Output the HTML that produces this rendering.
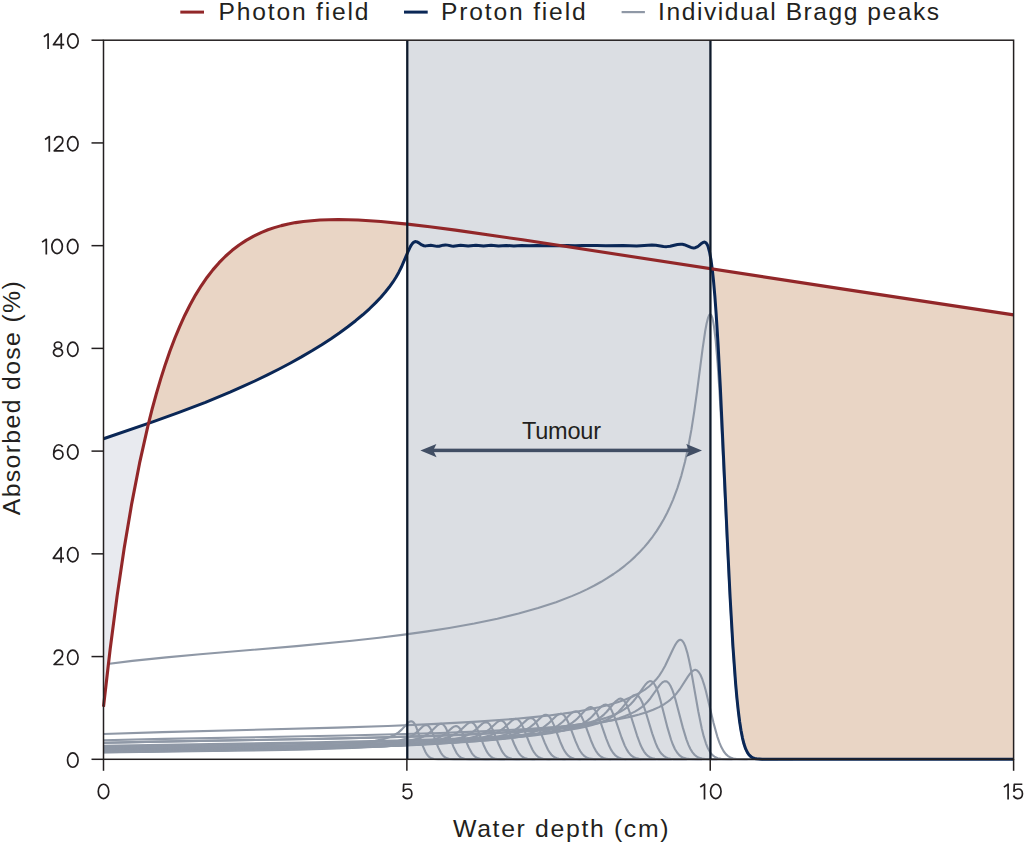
<!DOCTYPE html>
<html><head><meta charset="utf-8"><style>
html,body{margin:0;padding:0;background:#fff;}
body{width:1024px;height:843px;overflow:hidden;position:relative;}
svg{position:absolute;left:0;top:0;}
text{font-family:"Liberation Sans",sans-serif;fill:#231f20;}
</style></head><body>
<svg width="1024" height="843" viewBox="0 0 1024 843">
<rect width="1024" height="843" fill="#fff"/>
<!-- legend -->
<g stroke-width="3">
<line x1="180.3" y1="12.1" x2="204" y2="12.1" stroke="#922729"/>
<line x1="404" y1="12.1" x2="427.7" y2="12.1" stroke="#0a2756"/>
<line x1="621.6" y1="12.1" x2="644.9" y2="12.1" stroke="#8f98a6" stroke-width="2.2"/>
</g>
<g font-size="24.6">
<text x="218.5" y="19.9" textLength="150" lengthAdjust="spacing">Photon field</text>
<text x="441.1" y="19.9" textLength="144.5" lengthAdjust="spacing">Proton field</text>
<text x="658.1" y="19.9" textLength="281" lengthAdjust="spacing">Individual Bragg peaks</text>
</g>
<!-- fills -->
<path d="M148.55,423.35 148.84,422.17 149.13,421.01 149.42,419.85 149.70,418.69 149.99,417.54 150.28,416.40 150.57,415.26 150.86,414.13 151.15,413.00 151.43,411.88 151.72,410.77 152.01,409.66 152.30,408.56 152.59,407.46 152.88,406.37 153.17,405.29 153.45,404.21 153.74,403.14 154.03,402.07 154.32,401.00 154.61,399.95 154.90,398.90 155.18,397.85 155.47,396.81 155.76,395.78 156.05,394.75 156.34,393.72 156.63,392.70 156.91,391.69 157.20,390.68 157.49,389.68 157.78,388.68 158.07,387.69 158.36,386.71 158.65,385.72 158.93,384.75 159.22,383.78 159.51,382.81 159.80,381.85 160.09,380.89 160.38,379.94 160.66,379.00 160.95,378.05 161.24,377.12 161.53,376.19 161.82,375.26 162.11,374.34 162.40,373.42 162.68,372.51 162.97,371.61 163.26,370.70 163.55,369.81 163.84,368.91 164.13,368.03 164.41,367.14 164.70,366.26 164.99,365.39 165.28,364.52 165.57,363.66 165.86,362.80 166.15,361.94 166.43,361.09 166.72,360.25 167.01,359.40 167.30,358.57 167.59,357.73 167.88,356.90 168.16,356.08 168.45,355.26 168.74,354.45 169.03,353.63 169.32,352.83 169.61,352.03 169.89,351.23 170.18,350.43 170.47,349.64 170.76,348.86 171.05,348.08 171.34,347.30 171.63,346.53 171.91,345.76 172.20,344.99 172.49,344.23 172.78,343.48 173.07,342.72 173.36,341.97 173.64,341.23 173.93,340.49 174.22,339.75 174.51,339.02 174.80,338.29 175.09,337.56 175.38,336.84 175.66,336.13 175.95,335.41 176.24,334.70 176.53,334.00 176.82,333.30 177.11,332.60 177.39,331.90 177.68,331.21 177.97,330.53 178.26,329.84 178.55,329.16 178.84,328.49 179.13,327.81 179.41,327.14 179.70,326.48 179.99,325.82 180.28,325.16 180.57,324.50 180.86,323.85 181.14,323.21 181.43,322.56 181.72,321.92 182.01,321.28 182.30,320.65 182.59,320.02 182.88,319.39 183.16,318.77 183.45,318.15 183.74,317.53 184.03,316.92 184.32,316.31 184.61,315.70 184.89,315.10 185.18,314.50 185.47,313.90 185.76,313.31 186.05,312.72 186.34,312.13 186.62,311.54 186.91,310.96 187.20,310.39 187.49,309.81 187.78,309.24 188.07,308.67 188.36,308.11 188.64,307.54 188.93,306.98 189.22,306.43 189.51,305.87 189.80,305.32 190.09,304.78 190.37,304.23 190.66,303.69 190.95,303.15 191.24,302.62 191.53,302.08 191.82,301.55 192.11,301.03 192.39,300.50 192.68,299.98 192.97,299.46 193.26,298.95 193.55,298.44 193.84,297.93 194.12,297.42 194.41,296.92 194.70,296.41 194.99,295.92 195.28,295.42 195.57,294.93 195.86,294.44 196.14,293.95 196.43,293.46 196.72,292.98 197.01,292.50 197.30,292.02 197.59,291.55 197.87,291.08 198.16,290.61 198.45,290.14 198.74,289.68 199.03,289.22 199.32,288.76 199.60,288.30 199.89,287.85 200.18,287.40 200.47,286.95 200.76,286.50 201.05,286.06 201.34,285.61 201.62,285.18 201.91,284.74 202.20,284.30 202.49,283.87 202.78,283.44 203.07,283.02 203.35,282.59 203.64,282.17 203.93,281.75 204.22,281.33 204.51,280.92 204.80,280.50 205.09,280.09 205.37,279.68 205.66,279.28 205.95,278.88 206.24,278.47 206.53,278.07 206.82,277.68 207.10,277.28 207.39,276.89 207.68,276.50 207.97,276.11 208.26,275.73 208.55,275.34 208.84,274.96 209.12,274.58 209.41,274.20 209.70,273.83 209.99,273.45 210.28,273.08 210.57,272.71 210.85,272.35 211.14,271.98 211.43,271.62 211.72,271.26 212.01,270.90 212.30,270.54 212.58,270.19 212.87,269.84 213.16,269.49 213.45,269.14 213.74,268.79 214.03,268.45 214.32,268.10 214.60,267.76 214.89,267.42 215.18,267.09 215.47,266.75 215.76,266.42 216.05,266.09 216.33,265.76 216.62,265.43 216.91,265.10 217.20,264.78 217.49,264.46 217.78,264.14 218.07,263.82 218.35,263.50 218.64,263.19 218.93,262.88 219.22,262.57 219.51,262.26 219.80,261.95 220.08,261.65 220.37,261.34 220.66,261.04 220.95,260.74 221.24,260.44 221.53,260.14 221.82,259.85 222.10,259.56 222.39,259.26 222.68,258.97 222.97,258.69 223.26,258.40 223.55,258.11 223.83,257.83 224.12,257.55 224.41,257.27 224.70,256.99 224.99,256.71 225.28,256.44 225.57,256.17 225.85,255.89 226.14,255.62 226.43,255.35 226.72,255.09 227.01,254.82 227.30,254.56 227.58,254.30 227.87,254.03 228.16,253.77 228.45,253.52 228.74,253.26 229.03,253.01 229.31,252.75 229.60,252.50 229.89,252.25 230.18,252.00 230.47,251.75 230.76,251.51 231.05,251.26 231.33,251.02 231.62,250.78 231.91,250.54 232.20,250.30 232.49,250.06 232.78,249.83 233.06,249.59 233.35,249.36 233.64,249.13 233.93,248.90 234.22,248.67 234.51,248.44 234.80,248.22 235.08,247.99 235.37,247.77 235.66,247.55 235.95,247.33 236.24,247.11 236.53,246.89 236.81,246.67 237.10,246.46 237.39,246.24 237.68,246.03 237.97,245.82 238.26,245.61 238.55,245.40 238.83,245.19 239.12,244.99 239.41,244.78 239.70,244.58 239.99,244.37 240.28,244.17 240.56,243.97 240.85,243.77 241.14,243.58 241.43,243.38 241.72,243.19 242.01,242.99 242.29,242.80 242.58,242.61 242.87,242.42 243.16,242.23 243.45,242.04 243.74,241.85 244.03,241.67 244.31,241.48 244.60,241.30 244.89,241.12 245.18,240.94 245.47,240.76 245.76,240.58 246.04,240.40 246.33,240.22 246.62,240.05 246.91,239.87 247.20,239.70 247.49,239.53 247.78,239.36 248.06,239.19 248.35,239.02 248.64,238.85 248.93,238.68 249.22,238.52 249.51,238.35 249.79,238.19 250.08,238.03 250.37,237.87 250.66,237.71 250.95,237.55 251.24,237.39 251.53,237.23 251.81,237.07 252.10,236.92 252.39,236.77 252.68,236.61 252.97,236.46 253.26,236.31 253.54,236.16 253.83,236.01 254.12,235.86 254.41,235.71 254.70,235.57 254.99,235.42 255.28,235.28 255.56,235.13 255.85,234.99 256.14,234.85 256.43,234.71 256.72,234.57 257.01,234.43 257.29,234.29 257.58,234.15 257.87,234.02 258.16,233.88 258.45,233.75 258.74,233.62 259.02,233.48 259.31,233.35 259.60,233.22 259.89,233.09 260.18,232.96 260.47,232.83 260.76,232.71 261.04,232.58 261.33,232.46 261.62,232.33 261.91,232.21 262.20,232.08 262.49,231.96 262.77,231.84 263.06,231.72 263.35,231.60 263.64,231.48 263.93,231.36 264.22,231.25 264.51,231.13 264.79,231.02 265.08,230.90 265.37,230.79 265.66,230.67 265.95,230.56 266.24,230.45 266.52,230.34 266.81,230.23 267.10,230.12 267.39,230.01 267.68,229.90 267.97,229.80 268.26,229.69 268.54,229.59 268.83,229.48 269.12,229.38 269.41,229.28 269.70,229.17 269.99,229.07 270.27,228.97 270.56,228.87 270.85,228.77 271.14,228.67 271.43,228.57 271.72,228.48 272.00,228.38 272.29,228.29 272.58,228.19 272.87,228.10 273.16,228.00 273.45,227.91 273.74,227.82 274.02,227.73 274.31,227.63 274.60,227.54 274.89,227.46 275.18,227.37 275.47,227.28 275.75,227.19 276.04,227.10 276.33,227.02 276.62,226.93 276.91,226.85 277.20,226.76 277.49,226.68 277.77,226.60 278.06,226.51 278.35,226.43 278.64,226.35 278.93,226.27 279.22,226.19 279.50,226.11 279.79,226.03 280.08,225.96 280.37,225.88 280.66,225.80 280.95,225.73 281.24,225.65 281.52,225.58 281.81,225.50 282.10,225.43 282.39,225.36 282.68,225.28 282.97,225.21 283.25,225.14 283.54,225.07 283.83,225.00 284.12,224.93 284.41,224.86 284.70,224.79 284.98,224.73 285.27,224.66 285.56,224.59 285.85,224.53 286.14,224.46 286.43,224.40 286.72,224.33 287.00,224.27 287.29,224.20 287.58,224.14 287.87,224.08 288.16,224.02 288.45,223.96 288.73,223.90 289.02,223.84 289.31,223.78 289.60,223.72 289.89,223.66 290.18,223.60 290.47,223.54 290.75,223.49 291.04,223.43 291.33,223.37 291.62,223.32 291.91,223.26 292.20,223.21 292.48,223.15 292.77,223.10 293.06,223.05 293.35,223.00 293.64,222.94 293.93,222.89 294.22,222.84 294.50,222.79 294.79,222.74 295.08,222.69 295.37,222.64 295.66,222.59 295.95,222.55 296.23,222.50 296.52,222.45 296.81,222.40 297.10,222.36 297.39,222.31 297.68,222.27 297.97,222.22 298.25,222.18 298.54,222.13 298.83,222.09 299.12,222.05 299.41,222.00 299.70,221.96 299.98,221.92 300.27,221.88 300.56,221.84 300.85,221.80 301.14,221.76 301.43,221.72 301.71,221.68 302.00,221.64 302.29,221.60 302.58,221.56 302.87,221.53 303.16,221.49 303.45,221.45 303.73,221.42 304.02,221.38 304.31,221.34 304.60,221.31 304.89,221.28 305.18,221.24 305.46,221.21 305.75,221.17 306.04,221.14 306.33,221.11 306.62,221.08 306.91,221.04 307.20,221.01 307.48,220.98 307.77,220.95 308.06,220.92 308.35,220.89 308.64,220.86 308.93,220.83 309.21,220.80 309.50,220.77 309.79,220.75 310.08,220.72 310.37,220.69 310.66,220.66 310.95,220.64 311.23,220.61 311.52,220.58 311.81,220.56 312.10,220.53 312.39,220.51 312.68,220.48 312.96,220.46 313.25,220.44 313.54,220.41 313.83,220.39 314.12,220.37 314.41,220.34 314.69,220.32 314.98,220.30 315.27,220.28 315.56,220.26 315.85,220.24 316.14,220.22 316.43,220.20 316.71,220.18 317.00,220.16 317.29,220.14 317.58,220.12 317.87,220.10 318.16,220.08 318.44,220.07 318.73,220.05 319.02,220.03 319.31,220.01 319.60,220.00 319.89,219.98 320.18,219.96 320.46,219.95 320.75,219.93 321.04,219.92 321.33,219.90 321.62,219.89 321.91,219.88 322.19,219.86 322.48,219.85 322.77,219.83 323.06,219.82 323.35,219.81 323.64,219.80 323.93,219.78 324.21,219.77 324.50,219.76 324.79,219.75 325.08,219.74 325.37,219.73 325.66,219.72 325.94,219.71 326.23,219.70 326.52,219.69 326.81,219.68 327.10,219.67 327.39,219.66 327.68,219.65 327.96,219.64 328.25,219.64 328.54,219.63 328.83,219.62 329.12,219.61 329.41,219.61 329.69,219.60 329.98,219.59 330.27,219.59 330.56,219.58 330.85,219.58 331.14,219.57 331.42,219.57 331.71,219.56 332.00,219.56 332.29,219.55 332.58,219.55 332.87,219.54 333.16,219.54 333.44,219.54 333.73,219.53 334.02,219.53 334.31,219.53 334.60,219.53 334.89,219.52 335.17,219.52 335.46,219.52 335.75,219.52 336.04,219.52 336.33,219.52 336.62,219.52 336.91,219.52 337.19,219.51 337.48,219.51 337.77,219.51 338.06,219.52 338.35,219.52 338.64,219.52 338.92,219.52 339.21,219.52 339.50,219.52 339.79,219.52 340.08,219.52 340.37,219.53 340.66,219.53 340.94,219.53 341.23,219.53 341.52,219.54 341.81,219.54 342.10,219.54 342.39,219.55 342.67,219.55 342.96,219.55 343.25,219.56 343.54,219.56 343.83,219.57 344.12,219.57 344.40,219.58 344.69,219.58 344.98,219.59 345.27,219.59 345.56,219.60 345.85,219.61 346.14,219.61 346.42,219.62 346.71,219.63 347.00,219.63 347.29,219.64 347.58,219.65 347.87,219.65 348.15,219.66 348.44,219.67 348.73,219.68 349.02,219.69 349.31,219.69 349.60,219.70 349.89,219.71 350.17,219.72 350.46,219.73 350.75,219.74 351.04,219.75 351.33,219.76 351.62,219.77 351.90,219.78 352.19,219.79 352.48,219.80 352.77,219.81 353.06,219.82 353.35,219.83 353.64,219.84 353.92,219.85 354.21,219.86 354.50,219.87 354.79,219.89 355.08,219.90 355.37,219.91 355.65,219.92 355.94,219.93 356.23,219.95 356.52,219.96 356.81,219.97 357.10,219.99 357.38,220.00 357.67,220.01 357.96,220.03 358.25,220.04 358.54,220.05 358.83,220.07 359.12,220.08 359.40,220.09 359.69,220.11 359.98,220.12 360.27,220.14 360.56,220.15 360.85,220.17 361.13,220.18 361.42,220.20 361.71,220.21 362.00,220.23 362.29,220.25 362.58,220.26 362.87,220.28 363.15,220.29 363.44,220.31 363.73,220.33 364.02,220.34 364.31,220.36 364.60,220.38 364.88,220.39 365.17,220.41 365.46,220.43 365.75,220.45 366.04,220.46 366.33,220.48 366.62,220.50 366.90,220.52 367.19,220.54 367.48,220.55 367.77,220.57 368.06,220.59 368.35,220.61 368.63,220.63 368.92,220.65 369.21,220.67 369.50,220.69 369.79,220.70 370.08,220.72 370.37,220.74 370.65,220.76 370.94,220.78 371.23,220.80 371.52,220.82 371.81,220.84 372.10,220.86 372.38,220.88 372.67,220.91 372.96,220.93 373.25,220.95 373.54,220.97 373.83,220.99 374.11,221.01 374.40,221.03 374.69,221.05 374.98,221.07 375.27,221.10 375.56,221.12 375.85,221.14 376.13,221.16 376.42,221.18 376.71,221.21 377.00,221.23 377.29,221.25 377.58,221.27 377.86,221.30 378.15,221.32 378.44,221.34 378.73,221.37 379.02,221.39 379.31,221.41 379.60,221.44 379.88,221.46 380.17,221.48 380.46,221.51 380.75,221.53 381.04,221.55 381.33,221.58 381.61,221.60 381.90,221.63 382.19,221.65 382.48,221.67 382.77,221.70 383.06,221.72 383.35,221.75 383.63,221.77 383.92,221.80 384.21,221.82 384.50,221.85 384.79,221.87 385.08,221.90 385.36,221.92 385.65,221.95 385.94,221.98 386.23,222.00 386.52,222.03 386.81,222.05 387.09,222.08 387.38,222.11 387.67,222.13 387.96,222.16 388.25,222.18 388.54,222.21 388.83,222.24 389.11,222.26 389.40,222.29 389.69,222.32 389.98,222.34 390.27,222.37 390.56,222.40 390.84,222.43 391.13,222.45 391.42,222.48 391.71,222.51 392.00,222.54 392.29,222.56 392.58,222.59 392.86,222.62 393.15,222.65 393.44,222.68 393.73,222.70 394.02,222.73 394.31,222.76 394.59,222.79 394.88,222.82 395.17,222.85 395.46,222.87 395.75,222.90 396.04,222.93 396.33,222.96 396.61,222.99 396.90,223.02 397.19,223.05 397.48,223.08 397.77,223.11 398.06,223.13 398.34,223.16 398.63,223.19 398.92,223.22 399.21,223.25 399.50,223.28 399.79,223.31 400.08,223.34 400.36,223.37 400.65,223.40 400.94,223.43 401.23,223.46 401.52,223.49 401.81,223.52 402.09,223.55 402.38,223.58 402.67,223.61 402.96,223.65 403.25,223.68 403.54,223.71 403.82,223.74 404.11,223.77 404.40,223.80 404.69,223.83 404.98,223.86 405.27,223.89 405.56,223.92 405.84,223.96 406.13,223.99 406.42,224.02 406.71,224.05 407.00,224.08 407.29,224.11 407.57,224.14 407.86,224.18 408.15,224.21 408.44,224.24 408.73,224.27 409.02,224.30 409.31,224.34 409.59,224.37 409.88,224.40 410.17,224.43 410.46,224.47 410.75,224.50 411.04,224.53 411.32,224.56 411.61,224.60 411.90,224.63 412.19,224.66 412.48,224.69 412.77,224.73 413.06,224.76 413.34,224.79 413.63,224.83 413.92,224.86 414.21,224.89 414.50,224.93 414.79,224.96 415.07,224.99 415.36,225.03 415.65,225.06 415.94,225.09 416.23,225.13 416.52,225.16 416.80,225.19 417.09,225.23 417.38,225.26 417.67,225.29 417.96,225.33 418.25,225.36 418.54,225.40 418.82,225.43 419.11,225.47 419.40,225.50 419.69,225.53 419.98,225.57 420.27,225.60 420.55,225.64 420.84,225.67 421.13,225.71 421.42,225.74 421.71,225.77 422.00,225.81 422.29,225.84 422.57,225.88 422.86,225.91 423.15,225.95 423.44,225.98 423.73,226.02 424.02,226.05 424.30,226.09 424.59,226.12 424.88,226.16 425.17,226.19 425.46,226.23 425.75,226.27 426.04,226.30 426.32,226.34 426.61,226.37 426.90,226.41 427.19,226.44 427.48,226.48 427.77,226.51 428.05,226.55 428.34,226.59 428.63,226.62 428.92,226.66 429.21,226.69 429.50,226.73 429.78,226.76 430.07,226.80 430.36,226.84 430.65,226.87 430.94,226.91 431.23,226.95 431.52,226.98 431.80,227.02 432.09,227.05 432.38,227.09 432.67,227.13 432.96,227.16 433.25,227.20 433.53,227.24 433.82,227.27 434.11,227.31 434.40,227.35 434.69,227.38 434.98,227.42 435.27,227.46 435.55,227.49 435.84,227.53 436.13,227.57 436.42,227.60 436.71,227.64 437.00,227.68 437.28,227.72 437.57,227.75 437.86,227.79 438.15,227.83 438.44,227.86 438.73,227.90 439.02,227.94 439.30,227.98 439.59,228.01 439.88,228.05 440.17,228.09 440.46,228.13 440.75,228.16 441.03,228.20 441.32,228.24 441.61,228.28 441.90,228.31 442.19,228.35 442.48,228.39 442.77,228.43 443.05,228.47 443.34,228.50 443.63,228.54 443.92,228.58 444.21,228.62 444.50,228.66 444.78,228.69 445.07,228.73 445.36,228.77 445.65,228.81 445.94,228.85 446.23,228.88 446.51,228.92 446.80,228.96 447.09,229.00 447.38,229.04 447.67,229.08 447.96,229.11 448.25,229.15 448.53,229.19 448.82,229.23 449.11,229.27 449.40,229.31 449.69,229.35 449.98,229.38 450.26,229.42 450.55,229.46 450.84,229.50 451.13,229.54 451.42,229.58 451.71,229.62 452.00,229.66 452.28,229.69 452.57,229.73 452.86,229.77 453.15,229.81 453.44,229.85 453.73,229.89 454.01,229.93 454.30,229.97 454.59,230.01 454.88,230.05 455.17,230.09 455.46,230.12 455.75,230.16 456.03,230.20 456.32,230.24 456.61,230.28 456.90,230.32 457.19,230.36 457.48,230.40 457.76,230.44 458.05,230.48 458.34,230.52 458.63,230.56 458.92,230.60 459.21,230.64 459.49,230.68 459.78,230.72 460.07,230.76 460.36,230.80 460.65,230.84 460.94,230.88 461.23,230.92 461.51,230.95 461.80,230.99 462.09,231.03 462.38,231.07 462.67,231.11 462.96,231.15 463.24,231.19 463.53,231.23 463.82,231.27 464.11,231.31 464.40,231.35 464.69,231.39 464.98,231.43 465.26,231.47 465.55,231.51 465.84,231.56 466.13,231.60 466.42,231.64 466.71,231.68 466.99,231.72 467.28,231.76 467.57,231.80 467.86,231.84 468.15,231.88 468.44,231.92 468.73,231.96 469.01,232.00 469.30,232.04 469.59,232.08 469.88,232.12 470.17,232.16 470.46,232.20 470.74,232.24 471.03,232.28 471.32,232.32 471.61,232.36 471.90,232.40 472.19,232.45 472.47,232.49 472.76,232.53 473.05,232.57 473.34,232.61 473.63,232.65 473.92,232.69 474.21,232.73 474.49,232.77 474.78,232.81 475.07,232.85 475.36,232.89 475.65,232.94 475.94,232.98 476.22,233.02 476.51,233.06 476.80,233.10 477.09,233.14 477.38,233.18 477.67,233.22 477.96,233.26 478.24,233.30 478.53,233.35 478.82,233.39 479.11,233.43 479.40,233.47 479.69,233.51 479.97,233.55 480.26,233.59 480.55,233.63 480.84,233.68 481.13,233.72 481.42,233.76 481.71,233.80 481.99,233.84 482.28,233.88 482.57,233.92 482.86,233.96 483.15,234.01 483.44,234.05 483.72,234.09 484.01,234.13 484.30,234.17 484.59,234.21 484.88,234.26 485.17,234.30 485.46,234.34 485.74,234.38 486.03,234.42 486.32,234.46 486.61,234.50 486.90,234.55 487.19,234.59 487.47,234.63 487.76,234.67 488.05,234.71 488.34,234.75 488.63,234.80 488.92,234.84 489.20,234.88 489.49,234.92 489.78,234.96 490.07,235.01 490.36,235.05 490.65,235.09 490.94,235.13 491.22,235.17 491.51,235.22 491.80,235.26 492.09,235.30 492.38,235.34 492.67,235.38 492.95,235.42 493.24,235.47 493.53,235.51 493.82,235.55 494.11,235.59 494.40,235.63 494.69,235.68 494.97,235.72 495.26,235.76 495.55,235.80 495.84,235.85 496.13,235.89 496.42,235.93 496.70,235.97 496.99,236.01 497.28,236.06 497.57,236.10 497.86,236.14 498.15,236.18 498.44,236.23 498.72,236.27 499.01,236.31 499.30,236.35 499.59,236.39 499.88,236.44 500.17,236.48 500.45,236.52 500.74,236.56 501.03,236.61 501.32,236.65 501.61,236.69 501.90,236.73 502.18,236.78 502.47,236.82 502.76,236.86 503.05,236.90 503.34,236.95 503.63,236.99 503.92,237.03 504.20,237.07 504.49,237.12 504.78,237.16 505.07,237.20 505.36,237.24 505.65,237.29 505.93,237.33 506.22,237.37 506.51,237.41 506.80,237.46 507.09,237.50 507.38,237.54 507.67,237.58 507.95,237.63 508.24,237.67 508.53,237.71 508.82,237.75 509.11,237.80 509.40,237.84 509.68,237.88 509.97,237.93 510.26,237.97 510.55,238.01 510.84,238.05 511.13,238.10 511.42,238.14 511.70,238.18 511.99,238.23 512.28,238.27 512.57,238.31 512.86,238.35 513.15,238.40 513.43,238.44 513.72,238.48 514.01,238.53 514.30,238.57 514.59,238.61 514.88,238.65 515.17,238.70 515.45,238.74 515.74,238.78 516.03,238.83 516.32,238.87 516.61,238.91 516.90,238.95 517.18,239.00 517.47,239.04 517.76,239.08 518.05,239.13 518.34,239.17 518.63,239.21 518.91,239.26 519.20,239.30 519.49,239.34 519.78,239.39 520.07,239.43 520.36,239.47 520.65,239.51 520.93,239.56 521.22,239.60 521.51,239.64 521.80,239.69 522.09,239.73 522.38,239.77 522.66,239.82 522.95,239.86 523.24,239.90 523.53,239.95 523.82,239.99 524.11,240.03 524.40,240.08 524.68,240.12 524.97,240.16 525.26,240.21 525.55,240.25 525.84,240.29 526.13,240.34 526.41,240.38 526.70,240.42 526.99,240.47 527.28,240.51 527.57,240.55 527.86,240.60 528.15,240.64 528.43,240.68 528.72,240.73 529.01,240.77 529.30,240.81 529.59,240.86 529.88,240.90 530.16,240.94 530.45,240.99 530.74,241.03 531.03,241.07 531.32,241.12 531.61,241.16 531.89,241.20 532.18,241.25 532.47,241.29 532.76,241.33 533.05,241.38 533.34,241.42 533.63,241.46 533.91,241.51 534.20,241.55 534.49,241.59 534.78,241.64 535.07,241.68 535.36,241.72 535.64,241.77 535.93,241.81 536.22,241.86 536.51,241.90 536.80,241.94 537.09,241.99 537.38,242.03 537.66,242.07 537.95,242.12 538.24,242.16 538.53,242.20 538.82,242.25 539.11,242.29 539.39,242.33 539.68,242.38 539.97,242.42 540.26,242.47 540.55,242.51 540.84,242.55 541.13,242.60 541.41,242.64 541.70,242.68 541.99,242.73 542.28,242.77 542.57,242.81 542.86,242.86 543.14,242.90 543.43,242.95 543.72,242.99 544.01,243.03 544.30,243.08 544.59,243.12 544.87,243.16 545.16,243.21 545.45,243.25 545.74,243.30 546.03,243.34 546.32,243.38 546.61,243.43 546.89,243.47 547.18,243.51 547.47,243.56 547.76,243.60 548.05,243.65 548.34,243.69 548.62,243.73 548.91,243.78 549.20,243.82 549.49,243.86 549.78,243.91 550.07,243.95 550.36,244.00 550.64,244.04 550.93,244.08 551.22,244.13 551.51,244.17 551.80,244.22 552.09,244.26 552.37,244.30 552.66,244.35 552.95,244.39 553.24,244.43 553.53,244.48 553.82,244.52 554.11,244.57 554.39,244.61 554.68,244.65 554.97,244.70 555.26,244.74 555.55,244.79 555.84,244.83 556.12,244.87 556.41,244.92 556.70,244.96 556.99,245.01 557.28,245.05 557.57,245.09 557.86,245.14 558.14,245.18 558.43,245.23 558.72,245.27 559.01,245.31 559.30,245.36 559.59,245.40 559.87,245.45 560.16,245.49 560.45,245.53 560.74,245.58 561.03,245.62 561.32,245.67 561.60,245.71 561.89,245.75 562.18,245.80 562.47,245.84 562.76,245.89 563.05,245.93 563.34,245.97 563.62,246.02 563.91,246.06 564.20,246.11 564.49,246.15 564.78,246.19 565.07,246.24 565.35,246.28 565.64,246.33 565.93,246.37 566.22,246.41 566.51,246.46 566.80,246.50 567.09,246.55 567.37,246.59 567.66,246.63 567.95,246.68 568.24,246.72 568.53,246.77 568.82,246.81 569.10,246.86 569.39,246.90 569.68,246.94 569.97,246.99 570.26,247.03 570.55,247.08 570.84,247.12 571.12,247.16 571.41,247.21 571.70,247.25 571.99,247.30 572.28,247.34 572.57,247.39 572.85,247.43 573.14,247.47 573.43,247.52 573.72,247.56 574.01,247.61 574.30,247.65 574.58,247.69 574.87,247.74 575.16,247.78 575.45,247.83 575.74,247.87 576.03,247.92 576.32,247.96 576.60,248.00 576.89,248.05 577.18,248.09 577.47,248.14 577.76,248.18 578.05,248.22 578.33,248.27 578.62,248.31 578.91,248.36 579.20,248.40 579.49,248.45 579.78,248.49 580.07,248.53 580.35,248.58 580.64,248.62 580.93,248.67 581.22,248.71 581.51,248.76 581.80,248.80 582.08,248.84 582.37,248.89 582.66,248.93 582.95,248.98 583.24,249.02 583.53,249.07 583.82,249.11 584.10,249.15 584.39,249.20 584.68,249.24 584.97,249.29 585.26,249.33 585.55,249.38 585.83,249.42 586.12,249.46 586.41,249.51 586.70,249.55 586.99,249.60 587.28,249.64 587.57,249.69 587.85,249.73 588.14,249.77 588.43,249.82 588.72,249.86 589.01,249.91 589.30,249.95 589.58,250.00 589.87,250.04 590.16,250.08 590.45,250.13 590.74,250.17 591.03,250.22 591.31,250.26 591.60,250.31 591.89,250.35 592.18,250.40 592.47,250.44 592.76,250.48 593.05,250.53 593.33,250.57 593.62,250.62 593.91,250.66 594.20,250.71 594.49,250.75 594.78,250.79 595.06,250.84 595.35,250.88 595.64,250.93 595.93,250.97 596.22,251.02 596.51,251.06 596.80,251.10 597.08,251.15 597.37,251.19 597.66,251.24 597.95,251.28 598.24,251.33 598.53,251.37 598.81,251.42 599.10,251.46 599.39,251.50 599.68,251.55 599.97,251.59 600.26,251.64 600.55,251.68 600.83,251.73 601.12,251.77 601.41,251.82 601.70,251.86 601.99,251.90 602.28,251.95 602.56,251.99 602.85,252.04 603.14,252.08 603.43,252.13 603.72,252.17 604.01,252.22 604.29,252.26 604.58,252.30 604.87,252.35 605.16,252.39 605.45,252.44 605.74,252.48 606.03,252.53 606.31,252.57 606.60,252.62 606.89,252.66 607.18,252.70 607.47,252.75 607.76,252.79 608.04,252.84 608.33,252.88 608.62,252.93 608.91,252.97 609.20,253.02 609.49,253.06 609.78,253.10 610.06,253.15 610.35,253.19 610.64,253.24 610.93,253.28 611.22,253.33 611.51,253.37 611.79,253.42 612.08,253.46 612.37,253.50 612.66,253.55 612.95,253.59 613.24,253.64 613.53,253.68 613.81,253.73 614.10,253.77 614.39,253.82 614.68,253.86 614.97,253.90 615.26,253.95 615.54,253.99 615.83,254.04 616.12,254.08 616.41,254.13 616.70,254.17 616.99,254.22 617.27,254.26 617.56,254.31 617.85,254.35 618.14,254.39 618.43,254.44 618.72,254.48 619.01,254.53 619.29,254.57 619.58,254.62 619.87,254.66 620.16,254.71 620.45,254.75 620.74,254.79 621.02,254.84 621.31,254.88 621.60,254.93 621.89,254.97 622.18,255.02 622.47,255.06 622.76,255.11 623.04,255.15 623.33,255.20 623.62,255.24 623.91,255.28 624.20,255.33 624.49,255.37 624.77,255.42 625.06,255.46 625.35,255.51 625.64,255.55 625.93,255.60 626.22,255.64 626.51,255.69 626.79,255.73 627.08,255.77 627.37,255.82 627.66,255.86 627.95,255.91 628.24,255.95 628.52,256.00 628.81,256.04 629.10,256.09 629.39,256.13 629.68,256.17 629.97,256.22 630.26,256.26 630.54,256.31 630.83,256.35 631.12,256.40 631.41,256.44 631.70,256.49 631.99,256.53 632.27,256.58 632.56,256.62 632.85,256.66 633.14,256.71 633.43,256.75 633.72,256.80 634.00,256.84 634.29,256.89 634.58,256.93 634.87,256.98 635.16,257.02 635.45,257.07 635.74,257.11 636.02,257.15 636.31,257.20 636.60,257.24 636.89,257.29 637.18,257.33 637.47,257.38 637.75,257.42 638.04,257.47 638.33,257.51 638.62,257.56 638.91,257.60 639.20,257.65 639.49,257.69 639.77,257.73 640.06,257.78 640.35,257.82 640.64,257.87 640.93,257.91 641.22,257.96 641.50,258.00 641.79,258.05 642.08,258.09 642.37,258.14 642.66,258.18 642.95,258.22 643.24,258.27 643.52,258.31 643.81,258.36 644.10,258.40 644.39,258.45 644.68,258.49 644.97,258.54 645.25,258.58 645.54,258.63 645.83,258.67 646.12,258.71 646.41,258.76 646.70,258.80 646.98,258.85 647.27,258.89 647.56,258.94 647.85,258.98 648.14,259.03 648.43,259.07 648.72,259.12 649.00,259.16 649.29,259.21 649.58,259.25 649.87,259.29 650.16,259.34 650.45,259.38 650.73,259.43 651.02,259.47 651.31,259.52 651.60,259.56 651.89,259.61 652.18,259.65 652.47,259.70 652.75,259.74 653.04,259.78 653.33,259.83 653.62,259.87 653.91,259.92 654.20,259.96 654.48,260.01 654.77,260.05 655.06,260.10 655.35,260.14 655.64,260.19 655.93,260.23 656.22,260.27 656.50,260.32 656.79,260.36 657.08,260.41 657.37,260.45 657.66,260.50 657.95,260.54 658.23,260.59 658.52,260.63 658.81,260.68 659.10,260.72 659.39,260.77 659.68,260.81 659.97,260.85 660.25,260.90 660.54,260.94 660.83,260.99 661.12,261.03 661.41,261.08 661.70,261.12 661.98,261.17 662.27,261.21 662.56,261.26 662.85,261.30 663.14,261.35 663.43,261.39 663.71,261.43 664.00,261.48 664.29,261.52 664.58,261.57 664.87,261.61 665.16,261.66 665.45,261.70 665.73,261.75 666.02,261.79 666.31,261.84 666.60,261.88 666.89,261.92 667.18,261.97 667.46,262.01 667.75,262.06 668.04,262.10 668.33,262.15 668.62,262.19 668.91,262.24 669.20,262.28 669.48,262.33 669.77,262.37 670.06,262.42 670.35,262.46 670.64,262.50 670.93,262.55 671.21,262.59 671.50,262.64 671.79,262.68 672.08,262.73 672.37,262.77 672.66,262.82 672.95,262.86 673.23,262.91 673.52,262.95 673.81,262.99 674.10,263.04 674.39,263.08 674.68,263.13 674.96,263.17 675.25,263.22 675.54,263.26 675.83,263.31 676.12,263.35 676.41,263.40 676.69,263.44 676.98,263.49 677.27,263.53 677.56,263.57 677.85,263.62 678.14,263.66 678.43,263.71 678.71,263.75 679.00,263.80 679.29,263.84 679.58,263.89 679.87,263.93 680.16,263.98 680.44,264.02 680.73,264.06 681.02,264.11 681.31,264.15 681.60,264.20 681.89,264.24 682.18,264.29 682.46,264.33 682.75,264.38 683.04,264.42 683.33,264.47 683.62,264.51 683.91,264.56 684.19,264.60 684.48,264.64 684.77,264.69 685.06,264.73 685.35,264.78 685.64,264.82 685.93,264.87 686.21,264.91 686.50,264.96 686.79,265.00 687.08,265.05 687.37,265.09 687.66,265.13 687.94,265.18 688.23,265.22 688.52,265.27 688.81,265.31 689.10,265.36 689.39,265.40 689.67,265.45 689.96,265.49 690.25,265.54 690.54,265.58 690.83,265.63 691.12,265.67 691.41,265.71 691.69,265.76 691.98,265.80 692.27,265.85 692.56,265.89 692.85,265.94 693.14,265.98 693.42,266.03 693.71,266.07 694.00,266.12 694.29,266.16 694.58,266.20 694.87,266.25 695.16,266.29 695.44,266.34 695.73,266.38 696.02,266.43 696.31,266.47 696.60,266.52 696.89,266.56 697.17,266.61 697.46,266.65 697.75,266.69 698.04,266.74 698.33,266.78 698.62,266.83 698.91,266.87 699.19,266.92 699.48,266.96 699.77,267.01 700.06,267.05 700.35,267.10 700.64,267.14 700.92,267.19 701.21,267.23 701.50,267.27 701.79,267.32 702.08,267.36 702.37,267.41 702.66,267.45 702.94,267.50 703.23,267.54 703.52,267.59 703.81,267.63 704.10,267.68 704.39,267.72 704.67,267.76 704.96,267.81 705.25,267.85 705.54,267.90 705.83,267.94 706.12,267.99 706.40,268.03 706.69,268.08 706.98,268.12 707.27,268.17 707.56,268.21 707.85,268.25 708.14,268.30 708.42,268.34 708.71,268.39 709.00,268.43 709.29,268.48 709.58,268.52 709.87,268.57 710.15,268.61 710.44,268.66 710.73,268.70 711.02,268.74 711.31,268.79 711.60,268.83 711.89,268.88 712.17,268.92 712.46,268.97 712.75,269.01 713.04,269.06 713.33,269.10 713.62,269.15 713.90,269.19 714.19,269.23 714.48,269.28 714.77,269.32 715.06,269.37 715.35,269.41 715.64,269.46 715.92,269.50 716.21,269.55 716.50,269.59 716.79,269.64 717.08,269.68 717.37,269.72 717.65,269.77 717.94,269.81 718.23,269.86 718.52,269.90 718.81,269.95 719.10,269.99 719.38,270.04 719.67,270.08 719.96,270.13 720.25,270.17 720.54,270.21 720.83,270.26 721.12,270.30 721.40,270.35 721.69,270.39 721.98,270.44 722.27,270.48 722.56,270.53 722.85,270.57 723.13,270.61 723.42,270.66 723.71,270.70 724.00,270.75 724.29,270.79 724.58,270.84 724.87,270.88 725.15,270.93 725.44,270.97 725.73,271.02 726.02,271.06 726.31,271.10 726.60,271.15 726.88,271.19 727.17,271.24 727.46,271.28 727.75,271.33 728.04,271.37 728.33,271.42 728.62,271.46 728.90,271.51 729.19,271.55 729.48,271.59 729.77,271.64 730.06,271.68 730.35,271.73 730.63,271.77 730.92,271.82 731.21,271.86 731.50,271.91 731.79,271.95 732.08,271.99 732.36,272.04 732.65,272.08 732.94,272.13 733.23,272.17 733.52,272.22 733.81,272.26 734.10,272.31 734.38,272.35 734.67,272.40 734.96,272.44 735.25,272.48 735.54,272.53 735.83,272.57 736.11,272.62 736.40,272.66 736.69,272.71 736.98,272.75 737.27,272.80 737.56,272.84 737.85,272.88 738.13,272.93 738.42,272.97 738.71,273.02 739.00,273.06 739.29,273.11 739.58,273.15 739.86,273.20 740.15,273.24 740.44,273.28 740.73,273.33 741.02,273.37 741.31,273.42 741.60,273.46 741.88,273.51 742.17,273.55 742.46,273.60 742.75,273.64 743.04,273.69 743.33,273.73 743.61,273.77 743.90,273.82 744.19,273.86 744.48,273.91 744.77,273.95 745.06,274.00 745.35,274.04 745.63,274.09 745.92,274.13 746.21,274.17 746.50,274.22 746.79,274.26 747.08,274.31 747.36,274.35 747.65,274.40 747.94,274.44 748.23,274.49 748.52,274.53 748.81,274.57 749.09,274.62 749.38,274.66 749.67,274.71 749.96,274.75 750.25,274.80 750.54,274.84 750.83,274.89 751.11,274.93 751.40,274.97 751.69,275.02 751.98,275.06 752.27,275.11 752.56,275.15 752.84,275.20 753.13,275.24 753.42,275.29 753.71,275.33 754.00,275.37 754.29,275.42 754.58,275.46 754.86,275.51 755.15,275.55 755.44,275.60 755.73,275.64 756.02,275.69 756.31,275.73 756.59,275.77 756.88,275.82 757.17,275.86 757.46,275.91 757.75,275.95 758.04,276.00 758.33,276.04 758.61,276.09 758.90,276.13 759.19,276.17 759.48,276.22 759.77,276.26 760.06,276.31 760.34,276.35 760.63,276.40 760.92,276.44 761.21,276.49 761.50,276.53 761.79,276.57 762.07,276.62 762.36,276.66 762.65,276.71 762.94,276.75 763.23,276.80 763.52,276.84 763.81,276.89 764.09,276.93 764.38,276.97 764.67,277.02 764.96,277.06 765.25,277.11 765.54,277.15 765.82,277.20 766.11,277.24 766.40,277.28 766.69,277.33 766.98,277.37 767.27,277.42 767.56,277.46 767.84,277.51 768.13,277.55 768.42,277.60 768.71,277.64 769.00,277.68 769.29,277.73 769.57,277.77 769.86,277.82 770.15,277.86 770.44,277.91 770.73,277.95 771.02,278.00 771.31,278.04 771.59,278.08 771.88,278.13 772.17,278.17 772.46,278.22 772.75,278.26 773.04,278.31 773.32,278.35 773.61,278.39 773.90,278.44 774.19,278.48 774.48,278.53 774.77,278.57 775.06,278.62 775.34,278.66 775.63,278.71 775.92,278.75 776.21,278.79 776.50,278.84 776.79,278.88 777.07,278.93 777.36,278.97 777.65,279.02 777.94,279.06 778.23,279.10 778.52,279.15 778.80,279.19 779.09,279.24 779.38,279.28 779.67,279.33 779.96,279.37 780.25,279.42 780.54,279.46 780.82,279.50 781.11,279.55 781.40,279.59 781.69,279.64 781.98,279.68 782.27,279.73 782.55,279.77 782.84,279.81 783.13,279.86 783.42,279.90 783.71,279.95 784.00,279.99 784.29,280.04 784.57,280.08 784.86,280.12 785.15,280.17 785.44,280.21 785.73,280.26 786.02,280.30 786.30,280.35 786.59,280.39 786.88,280.43 787.17,280.48 787.46,280.52 787.75,280.57 788.04,280.61 788.32,280.66 788.61,280.70 788.90,280.75 789.19,280.79 789.48,280.83 789.77,280.88 790.05,280.92 790.34,280.97 790.63,281.01 790.92,281.06 791.21,281.10 791.50,281.14 791.78,281.19 792.07,281.23 792.36,281.28 792.65,281.32 792.94,281.37 793.23,281.41 793.52,281.45 793.80,281.50 794.09,281.54 794.38,281.59 794.67,281.63 794.96,281.68 795.25,281.72 795.53,281.76 795.82,281.81 796.11,281.85 796.40,281.90 796.69,281.94 796.98,281.99 797.27,282.03 797.55,282.07 797.84,282.12 798.13,282.16 798.42,282.21 798.71,282.25 799.00,282.30 799.28,282.34 799.57,282.38 799.86,282.43 800.15,282.47 800.44,282.52 800.73,282.56 801.02,282.61 801.30,282.65 801.59,282.69 801.88,282.74 802.17,282.78 802.46,282.83 802.75,282.87 803.03,282.92 803.32,282.96 803.61,283.00 803.90,283.05 804.19,283.09 804.48,283.14 804.76,283.18 805.05,283.23 805.34,283.27 805.63,283.31 805.92,283.36 806.21,283.40 806.50,283.45 806.78,283.49 807.07,283.54 807.36,283.58 807.65,283.62 807.94,283.67 808.23,283.71 808.51,283.76 808.80,283.80 809.09,283.85 809.38,283.89 809.67,283.93 809.96,283.98 810.25,284.02 810.53,284.07 810.82,284.11 811.11,284.16 811.40,284.20 811.69,284.24 811.98,284.29 812.26,284.33 812.55,284.38 812.84,284.42 813.13,284.47 813.42,284.51 813.71,284.55 814.00,284.60 814.28,284.64 814.57,284.69 814.86,284.73 815.15,284.77 815.44,284.82 815.73,284.86 816.01,284.91 816.30,284.95 816.59,285.00 816.88,285.04 817.17,285.08 817.46,285.13 817.75,285.17 818.03,285.22 818.32,285.26 818.61,285.31 818.90,285.35 819.19,285.39 819.48,285.44 819.76,285.48 820.05,285.53 820.34,285.57 820.63,285.61 820.92,285.66 821.21,285.70 821.49,285.75 821.78,285.79 822.07,285.84 822.36,285.88 822.65,285.92 822.94,285.97 823.23,286.01 823.51,286.06 823.80,286.10 824.09,286.15 824.38,286.19 824.67,286.23 824.96,286.28 825.24,286.32 825.53,286.37 825.82,286.41 826.11,286.45 826.40,286.50 826.69,286.54 826.98,286.59 827.26,286.63 827.55,286.68 827.84,286.72 828.13,286.76 828.42,286.81 828.71,286.85 828.99,286.90 829.28,286.94 829.57,286.98 829.86,287.03 830.15,287.07 830.44,287.12 830.73,287.16 831.01,287.21 831.30,287.25 831.59,287.29 831.88,287.34 832.17,287.38 832.46,287.43 832.74,287.47 833.03,287.51 833.32,287.56 833.61,287.60 833.90,287.65 834.19,287.69 834.47,287.74 834.76,287.78 835.05,287.82 835.34,287.87 835.63,287.91 835.92,287.96 836.21,288.00 836.49,288.04 836.78,288.09 837.07,288.13 837.36,288.18 837.65,288.22 837.94,288.27 838.22,288.31 838.51,288.35 838.80,288.40 839.09,288.44 839.38,288.49 839.67,288.53 839.96,288.57 840.24,288.62 840.53,288.66 840.82,288.71 841.11,288.75 841.40,288.79 841.69,288.84 841.97,288.88 842.26,288.93 842.55,288.97 842.84,289.02 843.13,289.06 843.42,289.10 843.71,289.15 843.99,289.19 844.28,289.24 844.57,289.28 844.86,289.32 845.15,289.37 845.44,289.41 845.72,289.46 846.01,289.50 846.30,289.54 846.59,289.59 846.88,289.63 847.17,289.68 847.46,289.72 847.74,289.76 848.03,289.81 848.32,289.85 848.61,289.90 848.90,289.94 849.19,289.99 849.47,290.03 849.76,290.07 850.05,290.12 850.34,290.16 850.63,290.21 850.92,290.25 851.20,290.29 851.49,290.34 851.78,290.38 852.07,290.43 852.36,290.47 852.65,290.51 852.94,290.56 853.22,290.60 853.51,290.65 853.80,290.69 854.09,290.73 854.38,290.78 854.67,290.82 854.95,290.87 855.24,290.91 855.53,290.96 855.82,291.00 856.11,291.04 856.40,291.09 856.69,291.13 856.97,291.18 857.26,291.22 857.55,291.26 857.84,291.31 858.13,291.35 858.42,291.40 858.70,291.44 858.99,291.48 859.28,291.53 859.57,291.57 859.86,291.62 860.15,291.66 860.44,291.70 860.72,291.75 861.01,291.79 861.30,291.84 861.59,291.88 861.88,291.92 862.17,291.97 862.45,292.01 862.74,292.06 863.03,292.10 863.32,292.14 863.61,292.19 863.90,292.23 864.18,292.28 864.47,292.32 864.76,292.36 865.05,292.41 865.34,292.45 865.63,292.50 865.92,292.54 866.20,292.58 866.49,292.63 866.78,292.67 867.07,292.72 867.36,292.76 867.65,292.80 867.93,292.85 868.22,292.89 868.51,292.94 868.80,292.98 869.09,293.02 869.38,293.07 869.67,293.11 869.95,293.16 870.24,293.20 870.53,293.24 870.82,293.29 871.11,293.33 871.40,293.38 871.68,293.42 871.97,293.46 872.26,293.51 872.55,293.55 872.84,293.60 873.13,293.64 873.42,293.68 873.70,293.73 873.99,293.77 874.28,293.82 874.57,293.86 874.86,293.90 875.15,293.95 875.43,293.99 875.72,294.04 876.01,294.08 876.30,294.12 876.59,294.17 876.88,294.21 877.16,294.26 877.45,294.30 877.74,294.34 878.03,294.39 878.32,294.43 878.61,294.48 878.90,294.52 879.18,294.56 879.47,294.61 879.76,294.65 880.05,294.70 880.34,294.74 880.63,294.78 880.91,294.83 881.20,294.87 881.49,294.91 881.78,294.96 882.07,295.00 882.36,295.05 882.65,295.09 882.93,295.13 883.22,295.18 883.51,295.22 883.80,295.27 884.09,295.31 884.38,295.35 884.66,295.40 884.95,295.44 885.24,295.49 885.53,295.53 885.82,295.57 886.11,295.62 886.40,295.66 886.68,295.71 886.97,295.75 887.26,295.79 887.55,295.84 887.84,295.88 888.13,295.93 888.41,295.97 888.70,296.01 888.99,296.06 889.28,296.10 889.57,296.14 889.86,296.19 890.15,296.23 890.43,296.28 890.72,296.32 891.01,296.36 891.30,296.41 891.59,296.45 891.88,296.50 892.16,296.54 892.45,296.58 892.74,296.63 893.03,296.67 893.32,296.72 893.61,296.76 893.89,296.80 894.18,296.85 894.47,296.89 894.76,296.93 895.05,296.98 895.34,297.02 895.63,297.07 895.91,297.11 896.20,297.15 896.49,297.20 896.78,297.24 897.07,297.29 897.36,297.33 897.64,297.37 897.93,297.42 898.22,297.46 898.51,297.50 898.80,297.55 899.09,297.59 899.38,297.64 899.66,297.68 899.95,297.72 900.24,297.77 900.53,297.81 900.82,297.86 901.11,297.90 901.39,297.94 901.68,297.99 901.97,298.03 902.26,298.07 902.55,298.12 902.84,298.16 903.13,298.21 903.41,298.25 903.70,298.29 903.99,298.34 904.28,298.38 904.57,298.43 904.86,298.47 905.14,298.51 905.43,298.56 905.72,298.60 906.01,298.64 906.30,298.69 906.59,298.73 906.87,298.78 907.16,298.82 907.45,298.86 907.74,298.91 908.03,298.95 908.32,299.00 908.61,299.04 908.89,299.08 909.18,299.13 909.47,299.17 909.76,299.21 910.05,299.26 910.34,299.30 910.62,299.35 910.91,299.39 911.20,299.43 911.49,299.48 911.78,299.52 912.07,299.56 912.36,299.61 912.64,299.65 912.93,299.70 913.22,299.74 913.51,299.78 913.80,299.83 914.09,299.87 914.37,299.91 914.66,299.96 914.95,300.00 915.24,300.05 915.53,300.09 915.82,300.13 916.11,300.18 916.39,300.22 916.68,300.26 916.97,300.31 917.26,300.35 917.55,300.40 917.84,300.44 918.12,300.48 918.41,300.53 918.70,300.57 918.99,300.61 919.28,300.66 919.57,300.70 919.85,300.75 920.14,300.79 920.43,300.83 920.72,300.88 921.01,300.92 921.30,300.96 921.59,301.01 921.87,301.05 922.16,301.10 922.45,301.14 922.74,301.18 923.03,301.23 923.32,301.27 923.60,301.31 923.89,301.36 924.18,301.40 924.47,301.45 924.76,301.49 925.05,301.53 925.34,301.58 925.62,301.62 925.91,301.66 926.20,301.71 926.49,301.75 926.78,301.80 927.07,301.84 927.35,301.88 927.64,301.93 927.93,301.97 928.22,302.01 928.51,302.06 928.80,302.10 929.09,302.15 929.37,302.19 929.66,302.23 929.95,302.28 930.24,302.32 930.53,302.36 930.82,302.41 931.10,302.45 931.39,302.49 931.68,302.54 931.97,302.58 932.26,302.63 932.55,302.67 932.84,302.71 933.12,302.76 933.41,302.80 933.70,302.84 933.99,302.89 934.28,302.93 934.57,302.98 934.85,303.02 935.14,303.06 935.43,303.11 935.72,303.15 936.01,303.19 936.30,303.24 936.58,303.28 936.87,303.32 937.16,303.37 937.45,303.41 937.74,303.46 938.03,303.50 938.32,303.54 938.60,303.59 938.89,303.63 939.18,303.67 939.47,303.72 939.76,303.76 940.05,303.80 940.33,303.85 940.62,303.89 940.91,303.94 941.20,303.98 941.49,304.02 941.78,304.07 942.07,304.11 942.35,304.15 942.64,304.20 942.93,304.24 943.22,304.28 943.51,304.33 943.80,304.37 944.08,304.42 944.37,304.46 944.66,304.50 944.95,304.55 945.24,304.59 945.53,304.63 945.82,304.68 946.10,304.72 946.39,304.76 946.68,304.81 946.97,304.85 947.26,304.90 947.55,304.94 947.83,304.98 948.12,305.03 948.41,305.07 948.70,305.11 948.99,305.16 949.28,305.20 949.56,305.24 949.85,305.29 950.14,305.33 950.43,305.37 950.72,305.42 951.01,305.46 951.30,305.51 951.58,305.55 951.87,305.59 952.16,305.64 952.45,305.68 952.74,305.72 953.03,305.77 953.31,305.81 953.60,305.85 953.89,305.90 954.18,305.94 954.47,305.98 954.76,306.03 955.05,306.07 955.33,306.12 955.62,306.16 955.91,306.20 956.20,306.25 956.49,306.29 956.78,306.33 957.06,306.38 957.35,306.42 957.64,306.46 957.93,306.51 958.22,306.55 958.51,306.59 958.80,306.64 959.08,306.68 959.37,306.73 959.66,306.77 959.95,306.81 960.24,306.86 960.53,306.90 960.81,306.94 961.10,306.99 961.39,307.03 961.68,307.07 961.97,307.12 962.26,307.16 962.55,307.20 962.83,307.25 963.12,307.29 963.41,307.33 963.70,307.38 963.99,307.42 964.28,307.46 964.56,307.51 964.85,307.55 965.14,307.60 965.43,307.64 965.72,307.68 966.01,307.73 966.29,307.77 966.58,307.81 966.87,307.86 967.16,307.90 967.45,307.94 967.74,307.99 968.03,308.03 968.31,308.07 968.60,308.12 968.89,308.16 969.18,308.20 969.47,308.25 969.76,308.29 970.04,308.33 970.33,308.38 970.62,308.42 970.91,308.47 971.20,308.51 971.49,308.55 971.78,308.60 972.06,308.64 972.35,308.68 972.64,308.73 972.93,308.77 973.22,308.81 973.51,308.86 973.79,308.90 974.08,308.94 974.37,308.99 974.66,309.03 974.95,309.07 975.24,309.12 975.53,309.16 975.81,309.20 976.10,309.25 976.39,309.29 976.68,309.33 976.97,309.38 977.26,309.42 977.54,309.46 977.83,309.51 978.12,309.55 978.41,309.59 978.70,309.64 978.99,309.68 979.27,309.73 979.56,309.77 979.85,309.81 980.14,309.86 980.43,309.90 980.72,309.94 981.01,309.99 981.29,310.03 981.58,310.07 981.87,310.12 982.16,310.16 982.45,310.20 982.74,310.25 983.02,310.29 983.31,310.33 983.60,310.38 983.89,310.42 984.18,310.46 984.47,310.51 984.76,310.55 985.04,310.59 985.33,310.64 985.62,310.68 985.91,310.72 986.20,310.77 986.49,310.81 986.77,310.85 987.06,310.90 987.35,310.94 987.64,310.98 987.93,311.03 988.22,311.07 988.51,311.11 988.79,311.16 989.08,311.20 989.37,311.24 989.66,311.29 989.95,311.33 990.24,311.37 990.52,311.42 990.81,311.46 991.10,311.50 991.39,311.55 991.68,311.59 991.97,311.63 992.25,311.68 992.54,311.72 992.83,311.76 993.12,311.81 993.41,311.85 993.70,311.89 993.99,311.94 994.27,311.98 994.56,312.02 994.85,312.07 995.14,312.11 995.43,312.15 995.72,312.20 996.00,312.24 996.29,312.28 996.58,312.33 996.87,312.37 997.16,312.41 997.45,312.46 997.74,312.50 998.02,312.54 998.31,312.59 998.60,312.63 998.89,312.67 999.18,312.72 999.47,312.76 999.75,312.80 1000.04,312.85 1000.33,312.89 1000.62,312.93 1000.91,312.98 1001.20,313.02 1001.49,313.06 1001.77,313.11 1002.06,313.15 1002.35,313.19 1002.64,313.24 1002.93,313.28 1003.22,313.32 1003.50,313.37 1003.79,313.41 1004.08,313.45 1004.37,313.50 1004.66,313.54 1004.95,313.58 1005.24,313.63 1005.52,313.67 1005.81,313.71 1006.10,313.76 1006.39,313.80 1006.68,313.84 1006.97,313.89 1007.25,313.93 1007.54,313.97 1007.83,314.02 1008.12,314.06 1008.41,314.10 1008.70,314.15 1008.98,314.19 1009.27,314.23 1009.56,314.28 1009.85,314.32 1010.14,314.36 1010.43,314.41 1010.72,314.45 1011.00,314.49 1011.29,314.53 1011.58,314.58 1011.87,314.62 1012.16,314.66 1012.45,314.71 1012.73,314.75 1013.02,314.79 1013.31,314.84 1013.60,314.88 L1013.60,759.30 1013.31,759.30 1013.02,759.30 1012.73,759.30 1012.45,759.30 1012.16,759.30 1011.87,759.30 1011.58,759.30 1011.29,759.30 1011.00,759.30 1010.72,759.30 1010.43,759.30 1010.14,759.30 1009.85,759.30 1009.56,759.30 1009.27,759.30 1008.98,759.30 1008.70,759.30 1008.41,759.30 1008.12,759.30 1007.83,759.30 1007.54,759.30 1007.25,759.30 1006.97,759.30 1006.68,759.30 1006.39,759.30 1006.10,759.30 1005.81,759.30 1005.52,759.30 1005.24,759.30 1004.95,759.30 1004.66,759.30 1004.37,759.30 1004.08,759.30 1003.79,759.30 1003.50,759.30 1003.22,759.30 1002.93,759.30 1002.64,759.30 1002.35,759.30 1002.06,759.30 1001.77,759.30 1001.49,759.30 1001.20,759.30 1000.91,759.30 1000.62,759.30 1000.33,759.30 1000.04,759.30 999.75,759.30 999.47,759.30 999.18,759.30 998.89,759.30 998.60,759.30 998.31,759.30 998.02,759.30 997.74,759.30 997.45,759.30 997.16,759.30 996.87,759.30 996.58,759.30 996.29,759.30 996.00,759.30 995.72,759.30 995.43,759.30 995.14,759.30 994.85,759.30 994.56,759.30 994.27,759.30 993.99,759.30 993.70,759.30 993.41,759.30 993.12,759.30 992.83,759.30 992.54,759.30 992.25,759.30 991.97,759.30 991.68,759.30 991.39,759.30 991.10,759.30 990.81,759.30 990.52,759.30 990.24,759.30 989.95,759.30 989.66,759.30 989.37,759.30 989.08,759.30 988.79,759.30 988.51,759.30 988.22,759.30 987.93,759.30 987.64,759.30 987.35,759.30 987.06,759.30 986.77,759.30 986.49,759.30 986.20,759.30 985.91,759.30 985.62,759.30 985.33,759.30 985.04,759.30 984.76,759.30 984.47,759.30 984.18,759.30 983.89,759.30 983.60,759.30 983.31,759.30 983.02,759.30 982.74,759.30 982.45,759.30 982.16,759.30 981.87,759.30 981.58,759.30 981.29,759.30 981.01,759.30 980.72,759.30 980.43,759.30 980.14,759.30 979.85,759.30 979.56,759.30 979.27,759.30 978.99,759.30 978.70,759.30 978.41,759.30 978.12,759.30 977.83,759.30 977.54,759.30 977.26,759.30 976.97,759.30 976.68,759.30 976.39,759.30 976.10,759.30 975.81,759.30 975.53,759.30 975.24,759.30 974.95,759.30 974.66,759.30 974.37,759.30 974.08,759.30 973.79,759.30 973.51,759.30 973.22,759.30 972.93,759.30 972.64,759.30 972.35,759.30 972.06,759.30 971.78,759.30 971.49,759.30 971.20,759.30 970.91,759.30 970.62,759.30 970.33,759.30 970.04,759.30 969.76,759.30 969.47,759.30 969.18,759.30 968.89,759.30 968.60,759.30 968.31,759.30 968.03,759.30 967.74,759.30 967.45,759.30 967.16,759.30 966.87,759.30 966.58,759.30 966.29,759.30 966.01,759.30 965.72,759.30 965.43,759.30 965.14,759.30 964.85,759.30 964.56,759.30 964.28,759.30 963.99,759.30 963.70,759.30 963.41,759.30 963.12,759.30 962.83,759.30 962.55,759.30 962.26,759.30 961.97,759.30 961.68,759.30 961.39,759.30 961.10,759.30 960.81,759.30 960.53,759.30 960.24,759.30 959.95,759.30 959.66,759.30 959.37,759.30 959.08,759.30 958.80,759.30 958.51,759.30 958.22,759.30 957.93,759.30 957.64,759.30 957.35,759.30 957.06,759.30 956.78,759.30 956.49,759.30 956.20,759.30 955.91,759.30 955.62,759.30 955.33,759.30 955.05,759.30 954.76,759.30 954.47,759.30 954.18,759.30 953.89,759.30 953.60,759.30 953.31,759.30 953.03,759.30 952.74,759.30 952.45,759.30 952.16,759.30 951.87,759.30 951.58,759.30 951.30,759.30 951.01,759.30 950.72,759.30 950.43,759.30 950.14,759.30 949.85,759.30 949.56,759.30 949.28,759.30 948.99,759.30 948.70,759.30 948.41,759.30 948.12,759.30 947.83,759.30 947.55,759.30 947.26,759.30 946.97,759.30 946.68,759.30 946.39,759.30 946.10,759.30 945.82,759.30 945.53,759.30 945.24,759.30 944.95,759.30 944.66,759.30 944.37,759.30 944.08,759.30 943.80,759.30 943.51,759.30 943.22,759.30 942.93,759.30 942.64,759.30 942.35,759.30 942.07,759.30 941.78,759.30 941.49,759.30 941.20,759.30 940.91,759.30 940.62,759.30 940.33,759.30 940.05,759.30 939.76,759.30 939.47,759.30 939.18,759.30 938.89,759.30 938.60,759.30 938.32,759.30 938.03,759.30 937.74,759.30 937.45,759.30 937.16,759.30 936.87,759.30 936.58,759.30 936.30,759.30 936.01,759.30 935.72,759.30 935.43,759.30 935.14,759.30 934.85,759.30 934.57,759.30 934.28,759.30 933.99,759.30 933.70,759.30 933.41,759.30 933.12,759.30 932.84,759.30 932.55,759.30 932.26,759.30 931.97,759.30 931.68,759.30 931.39,759.30 931.10,759.30 930.82,759.30 930.53,759.30 930.24,759.30 929.95,759.30 929.66,759.30 929.37,759.30 929.09,759.30 928.80,759.30 928.51,759.30 928.22,759.30 927.93,759.30 927.64,759.30 927.35,759.30 927.07,759.30 926.78,759.30 926.49,759.30 926.20,759.30 925.91,759.30 925.62,759.30 925.34,759.30 925.05,759.30 924.76,759.30 924.47,759.30 924.18,759.30 923.89,759.30 923.60,759.30 923.32,759.30 923.03,759.30 922.74,759.30 922.45,759.30 922.16,759.30 921.87,759.30 921.59,759.30 921.30,759.30 921.01,759.30 920.72,759.30 920.43,759.30 920.14,759.30 919.85,759.30 919.57,759.30 919.28,759.30 918.99,759.30 918.70,759.30 918.41,759.30 918.12,759.30 917.84,759.30 917.55,759.30 917.26,759.30 916.97,759.30 916.68,759.30 916.39,759.30 916.11,759.30 915.82,759.30 915.53,759.30 915.24,759.30 914.95,759.30 914.66,759.30 914.37,759.30 914.09,759.30 913.80,759.30 913.51,759.30 913.22,759.30 912.93,759.30 912.64,759.30 912.36,759.30 912.07,759.30 911.78,759.30 911.49,759.30 911.20,759.30 910.91,759.30 910.62,759.30 910.34,759.30 910.05,759.30 909.76,759.30 909.47,759.30 909.18,759.30 908.89,759.30 908.61,759.30 908.32,759.30 908.03,759.30 907.74,759.30 907.45,759.30 907.16,759.30 906.87,759.30 906.59,759.30 906.30,759.30 906.01,759.30 905.72,759.30 905.43,759.30 905.14,759.30 904.86,759.30 904.57,759.30 904.28,759.30 903.99,759.30 903.70,759.30 903.41,759.30 903.13,759.30 902.84,759.30 902.55,759.30 902.26,759.30 901.97,759.30 901.68,759.30 901.39,759.30 901.11,759.30 900.82,759.30 900.53,759.30 900.24,759.30 899.95,759.30 899.66,759.30 899.38,759.30 899.09,759.30 898.80,759.30 898.51,759.30 898.22,759.30 897.93,759.30 897.64,759.30 897.36,759.30 897.07,759.30 896.78,759.30 896.49,759.30 896.20,759.30 895.91,759.30 895.63,759.30 895.34,759.30 895.05,759.30 894.76,759.30 894.47,759.30 894.18,759.30 893.89,759.30 893.61,759.30 893.32,759.30 893.03,759.30 892.74,759.30 892.45,759.30 892.16,759.30 891.88,759.30 891.59,759.30 891.30,759.30 891.01,759.30 890.72,759.30 890.43,759.30 890.15,759.30 889.86,759.30 889.57,759.30 889.28,759.30 888.99,759.30 888.70,759.30 888.41,759.30 888.13,759.30 887.84,759.30 887.55,759.30 887.26,759.30 886.97,759.30 886.68,759.30 886.40,759.30 886.11,759.30 885.82,759.30 885.53,759.30 885.24,759.30 884.95,759.30 884.66,759.30 884.38,759.30 884.09,759.30 883.80,759.30 883.51,759.30 883.22,759.30 882.93,759.30 882.65,759.30 882.36,759.30 882.07,759.30 881.78,759.30 881.49,759.30 881.20,759.30 880.91,759.30 880.63,759.30 880.34,759.30 880.05,759.30 879.76,759.30 879.47,759.30 879.18,759.30 878.90,759.30 878.61,759.30 878.32,759.30 878.03,759.30 877.74,759.30 877.45,759.30 877.16,759.30 876.88,759.30 876.59,759.30 876.30,759.30 876.01,759.30 875.72,759.30 875.43,759.30 875.15,759.30 874.86,759.30 874.57,759.30 874.28,759.30 873.99,759.30 873.70,759.30 873.42,759.30 873.13,759.30 872.84,759.30 872.55,759.30 872.26,759.30 871.97,759.30 871.68,759.30 871.40,759.30 871.11,759.30 870.82,759.30 870.53,759.30 870.24,759.30 869.95,759.30 869.67,759.30 869.38,759.30 869.09,759.30 868.80,759.30 868.51,759.30 868.22,759.30 867.93,759.30 867.65,759.30 867.36,759.30 867.07,759.30 866.78,759.30 866.49,759.30 866.20,759.30 865.92,759.30 865.63,759.30 865.34,759.30 865.05,759.30 864.76,759.30 864.47,759.30 864.18,759.30 863.90,759.30 863.61,759.30 863.32,759.30 863.03,759.30 862.74,759.30 862.45,759.30 862.17,759.30 861.88,759.30 861.59,759.30 861.30,759.30 861.01,759.30 860.72,759.30 860.44,759.30 860.15,759.30 859.86,759.30 859.57,759.30 859.28,759.30 858.99,759.30 858.70,759.30 858.42,759.30 858.13,759.30 857.84,759.30 857.55,759.30 857.26,759.30 856.97,759.30 856.69,759.30 856.40,759.30 856.11,759.30 855.82,759.30 855.53,759.30 855.24,759.30 854.95,759.30 854.67,759.30 854.38,759.30 854.09,759.30 853.80,759.30 853.51,759.30 853.22,759.30 852.94,759.30 852.65,759.30 852.36,759.30 852.07,759.30 851.78,759.30 851.49,759.30 851.20,759.30 850.92,759.30 850.63,759.30 850.34,759.30 850.05,759.30 849.76,759.30 849.47,759.30 849.19,759.30 848.90,759.30 848.61,759.30 848.32,759.30 848.03,759.30 847.74,759.30 847.46,759.30 847.17,759.30 846.88,759.30 846.59,759.30 846.30,759.30 846.01,759.30 845.72,759.30 845.44,759.30 845.15,759.30 844.86,759.30 844.57,759.30 844.28,759.30 843.99,759.30 843.71,759.30 843.42,759.30 843.13,759.30 842.84,759.30 842.55,759.30 842.26,759.30 841.97,759.30 841.69,759.30 841.40,759.30 841.11,759.30 840.82,759.30 840.53,759.30 840.24,759.30 839.96,759.30 839.67,759.30 839.38,759.30 839.09,759.30 838.80,759.30 838.51,759.30 838.22,759.30 837.94,759.30 837.65,759.30 837.36,759.30 837.07,759.30 836.78,759.30 836.49,759.30 836.21,759.30 835.92,759.30 835.63,759.30 835.34,759.30 835.05,759.30 834.76,759.30 834.47,759.30 834.19,759.30 833.90,759.30 833.61,759.30 833.32,759.30 833.03,759.30 832.74,759.30 832.46,759.30 832.17,759.30 831.88,759.30 831.59,759.30 831.30,759.30 831.01,759.30 830.73,759.30 830.44,759.30 830.15,759.30 829.86,759.30 829.57,759.30 829.28,759.30 828.99,759.30 828.71,759.30 828.42,759.30 828.13,759.30 827.84,759.30 827.55,759.30 827.26,759.30 826.98,759.30 826.69,759.30 826.40,759.30 826.11,759.30 825.82,759.30 825.53,759.30 825.24,759.30 824.96,759.30 824.67,759.30 824.38,759.30 824.09,759.30 823.80,759.30 823.51,759.30 823.23,759.30 822.94,759.30 822.65,759.30 822.36,759.30 822.07,759.30 821.78,759.30 821.49,759.30 821.21,759.30 820.92,759.30 820.63,759.30 820.34,759.30 820.05,759.30 819.76,759.30 819.48,759.30 819.19,759.30 818.90,759.30 818.61,759.30 818.32,759.30 818.03,759.30 817.75,759.30 817.46,759.30 817.17,759.30 816.88,759.30 816.59,759.30 816.30,759.30 816.01,759.30 815.73,759.30 815.44,759.30 815.15,759.30 814.86,759.30 814.57,759.30 814.28,759.30 814.00,759.30 813.71,759.30 813.42,759.30 813.13,759.30 812.84,759.30 812.55,759.30 812.26,759.30 811.98,759.30 811.69,759.30 811.40,759.30 811.11,759.30 810.82,759.30 810.53,759.30 810.25,759.30 809.96,759.30 809.67,759.30 809.38,759.30 809.09,759.30 808.80,759.30 808.51,759.30 808.23,759.30 807.94,759.30 807.65,759.30 807.36,759.30 807.07,759.30 806.78,759.30 806.50,759.30 806.21,759.30 805.92,759.30 805.63,759.30 805.34,759.30 805.05,759.30 804.76,759.30 804.48,759.30 804.19,759.30 803.90,759.30 803.61,759.30 803.32,759.30 803.03,759.30 802.75,759.30 802.46,759.30 802.17,759.30 801.88,759.30 801.59,759.30 801.30,759.30 801.02,759.30 800.73,759.30 800.44,759.30 800.15,759.30 799.86,759.30 799.57,759.30 799.28,759.30 799.00,759.30 798.71,759.30 798.42,759.30 798.13,759.30 797.84,759.30 797.55,759.30 797.27,759.30 796.98,759.30 796.69,759.30 796.40,759.30 796.11,759.30 795.82,759.30 795.53,759.30 795.25,759.30 794.96,759.30 794.67,759.30 794.38,759.30 794.09,759.30 793.80,759.30 793.52,759.30 793.23,759.30 792.94,759.30 792.65,759.30 792.36,759.30 792.07,759.30 791.78,759.30 791.50,759.30 791.21,759.30 790.92,759.30 790.63,759.30 790.34,759.30 790.05,759.30 789.77,759.30 789.48,759.30 789.19,759.30 788.90,759.30 788.61,759.30 788.32,759.30 788.04,759.30 787.75,759.30 787.46,759.30 787.17,759.30 786.88,759.30 786.59,759.30 786.30,759.30 786.02,759.30 785.73,759.30 785.44,759.30 785.15,759.30 784.86,759.30 784.57,759.30 784.29,759.30 784.00,759.30 783.71,759.30 783.42,759.30 783.13,759.30 782.84,759.30 782.55,759.30 782.27,759.30 781.98,759.30 781.69,759.30 781.40,759.30 781.11,759.30 780.82,759.30 780.54,759.30 780.25,759.30 779.96,759.30 779.67,759.30 779.38,759.30 779.09,759.30 778.80,759.30 778.52,759.30 778.23,759.30 777.94,759.30 777.65,759.30 777.36,759.30 777.07,759.30 776.79,759.30 776.50,759.30 776.21,759.30 775.92,759.30 775.63,759.30 775.34,759.30 775.06,759.30 774.77,759.30 774.48,759.30 774.19,759.30 773.90,759.30 773.61,759.30 773.32,759.30 773.04,759.30 772.75,759.30 772.46,759.30 772.17,759.30 771.88,759.30 771.59,759.30 771.31,759.30 771.02,759.30 770.73,759.30 770.44,759.30 770.15,759.30 769.86,759.30 769.57,759.30 769.29,759.30 769.00,759.30 768.71,759.30 768.42,759.29 768.13,759.29 767.84,759.29 767.56,759.29 767.27,759.29 766.98,759.29 766.69,759.29 766.40,759.29 766.11,759.29 765.82,759.28 765.54,759.28 765.25,759.28 764.96,759.28 764.67,759.27 764.38,759.27 764.09,759.27 763.81,759.26 763.52,759.26 763.23,759.25 762.94,759.25 762.65,759.24 762.36,759.24 762.07,759.23 761.79,759.22 761.50,759.21 761.21,759.20 760.92,759.19 760.63,759.18 760.34,759.17 760.06,759.15 759.77,759.14 759.48,759.12 759.19,759.10 758.90,759.08 758.61,759.06 758.33,759.03 758.04,759.01 757.75,758.98 757.46,758.94 757.17,758.91 756.88,758.87 756.59,758.82 756.31,758.78 756.02,758.73 755.73,758.67 755.44,758.61 755.15,758.54 754.86,758.47 754.58,758.39 754.29,758.31 754.00,758.22 753.71,758.12 753.42,758.01 753.13,757.89 752.84,757.77 752.56,757.63 752.27,757.48 751.98,757.33 751.69,757.15 751.40,756.97 751.11,756.77 750.83,756.56 750.54,756.33 750.25,756.08 749.96,755.82 749.67,755.54 749.38,755.23 749.09,754.91 748.81,754.56 748.52,754.19 748.23,753.79 747.94,753.37 747.65,752.91 747.36,752.43 747.08,751.92 746.79,751.37 746.50,750.79 746.21,750.17 745.92,749.51 745.63,748.82 745.35,748.08 745.06,747.30 744.77,746.46 744.48,745.59 744.19,744.66 743.90,743.68 743.61,742.65 743.33,741.55 743.04,740.41 742.75,739.19 742.46,737.92 742.17,736.58 741.88,735.17 741.60,733.70 741.31,732.14 741.02,730.52 740.73,728.81 740.44,727.03 740.15,725.17 739.86,723.21 739.58,721.18 739.29,719.05 739.00,716.84 738.71,714.53 738.42,712.13 738.13,709.63 737.85,707.03 737.56,704.33 737.27,701.53 736.98,698.62 736.69,695.62 736.40,692.49 736.11,689.27 735.83,685.94 735.54,682.49 735.25,678.94 734.96,675.27 734.67,671.49 734.38,667.60 734.10,663.60 733.81,659.48 733.52,655.25 733.23,650.92 732.94,646.46 732.65,641.90 732.36,637.23 732.08,632.45 731.79,627.56 731.50,622.57 731.21,617.48 730.92,612.28 730.63,606.99 730.35,601.60 730.06,596.11 729.77,590.54 729.48,584.88 729.19,579.14 728.90,573.31 728.62,567.41 728.33,561.44 728.04,555.40 727.75,549.30 727.46,543.14 727.17,536.92 726.88,530.65 726.60,524.34 726.31,518.00 726.02,511.61 725.73,505.21 725.44,498.77 725.15,492.32 724.87,485.86 724.58,479.40 724.29,472.93 724.00,466.48 723.71,460.03 723.42,453.60 723.13,447.20 722.85,440.83 722.56,434.49 722.27,428.19 721.98,421.95 721.69,415.75 721.40,409.61 721.12,403.55 720.83,397.54 720.54,391.62 720.25,385.77 719.96,380.01 719.67,374.34 719.38,368.75 719.10,363.28 718.81,357.90 718.52,352.63 718.23,347.47 717.94,342.42 717.65,337.49 717.37,332.68 717.08,327.99 716.79,323.43 716.50,318.99 716.21,314.69 715.92,310.51 715.64,306.48 715.35,302.57 715.06,298.79 714.77,295.16 714.48,291.65 714.19,288.29 713.90,285.06 713.62,281.96 713.33,279.00 713.04,276.17 712.75,273.48 712.46,270.92 712.17,268.49 711.89,266.19 711.60,264.01 711.31,261.96 711.02,260.02 710.73,258.22 710.44,256.52 710.15,254.94 709.87,253.47 709.58,252.11 709.29,250.85 709.00,249.70 708.71,248.64 708.42,247.68 708.14,246.80 707.85,246.02 707.56,245.32 707.27,244.70 706.98,244.16 706.69,243.68 706.40,243.28 706.12,242.94 705.83,242.67 705.54,242.45 705.25,242.28 704.96,242.17 704.67,242.10 704.39,242.07 704.10,242.08 703.81,242.14 703.52,242.22 703.23,242.33 702.94,242.47 702.66,242.63 702.37,242.81 702.08,243.01 701.79,243.23 701.50,243.45 701.21,243.69 700.92,243.93 700.64,244.18 700.35,244.43 700.06,244.68 699.77,244.93 699.48,245.18 699.19,245.43 698.91,245.66 698.62,245.89 698.33,246.12 698.04,246.33 697.75,246.53 697.46,246.72 697.17,246.90 696.89,247.06 696.60,247.22 696.31,247.35 696.02,247.48 695.73,247.59 695.44,247.68 695.16,247.76 694.87,247.83 694.58,247.88 694.29,247.92 694.00,247.94 693.71,247.95 693.42,247.94 693.14,247.93 692.85,247.90 692.56,247.86 692.27,247.81 691.98,247.74 691.69,247.67 691.41,247.59 691.12,247.50 690.83,247.40 690.54,247.30 690.25,247.19 689.96,247.07 689.67,246.95 689.39,246.83 689.10,246.70 688.81,246.57 688.52,246.44 688.23,246.31 687.94,246.17 687.66,246.04 687.37,245.91 687.08,245.78 686.79,245.65 686.50,245.53 686.21,245.41 685.93,245.29 685.64,245.18 685.35,245.07 685.06,244.96 684.77,244.86 684.48,244.77 684.19,244.69 683.91,244.60 683.62,244.53 683.33,244.46 683.04,244.40 682.75,244.35 682.46,244.30 682.18,244.26 681.89,244.23 681.60,244.20 681.31,244.18 681.02,244.17 680.73,244.17 680.44,244.17 680.16,244.17 679.87,244.19 679.58,244.21 679.29,244.23 679.00,244.26 678.71,244.30 678.43,244.34 678.14,244.39 677.85,244.44 677.56,244.49 677.27,244.55 676.98,244.61 676.69,244.68 676.41,244.75 676.12,244.82 675.83,244.89 675.54,244.97 675.25,245.04 674.96,245.12 674.68,245.20 674.39,245.28 674.10,245.36 673.81,245.44 673.52,245.51 673.23,245.59 672.95,245.67 672.66,245.74 672.37,245.82 672.08,245.89 671.79,245.96 671.50,246.02 671.21,246.09 670.93,246.15 670.64,246.21 670.35,246.26 670.06,246.32 669.77,246.36 669.48,246.41 669.20,246.45 668.91,246.49 668.62,246.52 668.33,246.55 668.04,246.57 667.75,246.59 667.46,246.61 667.18,246.62 666.89,246.63 666.60,246.63 666.31,246.63 666.02,246.62 665.73,246.62 665.45,246.60 665.16,246.59 664.87,246.57 664.58,246.55 664.29,246.52 664.00,246.49 663.71,246.46 663.43,246.42 663.14,246.39 662.85,246.35 662.56,246.31 662.27,246.27 661.98,246.22 661.70,246.18 661.41,246.13 661.12,246.08 660.83,246.03 660.54,245.98 660.25,245.93 659.97,245.89 659.68,245.84 659.39,245.79 659.10,245.74 658.81,245.69 658.52,245.65 658.23,245.60 657.95,245.56 657.66,245.52 657.37,245.48 657.08,245.44 656.79,245.40 656.50,245.36 656.22,245.33 655.93,245.30 655.64,245.27 655.35,245.24 655.06,245.22 654.77,245.19 654.48,245.17 654.20,245.16 653.91,245.14 653.62,245.13 653.33,245.11 653.04,245.10 652.75,245.10 652.47,245.09 652.18,245.09 651.89,245.09 651.60,245.09 651.31,245.09 651.02,245.10 650.73,245.10 650.45,245.11 650.16,245.12 649.87,245.13 649.58,245.15 649.29,245.16 649.00,245.18 648.72,245.19 648.43,245.21 648.14,245.23 647.85,245.25 647.56,245.27 647.27,245.30 646.98,245.32 646.70,245.34 646.41,245.37 646.12,245.39 645.83,245.42 645.54,245.44 645.25,245.47 644.97,245.50 644.68,245.53 644.39,245.55 644.10,245.58 643.81,245.61 643.52,245.63 643.24,245.66 642.95,245.69 642.66,245.71 642.37,245.74 642.08,245.77 641.79,245.79 641.50,245.81 641.22,245.84 640.93,245.86 640.64,245.88 640.35,245.90 640.06,245.92 639.77,245.94 639.49,245.95 639.20,245.97 638.91,245.98 638.62,245.99 638.33,246.00 638.04,246.01 637.75,246.02 637.47,246.03 637.18,246.03 636.89,246.03 636.60,246.03 636.31,246.03 636.02,246.03 635.74,246.03 635.45,246.02 635.16,246.01 634.87,246.00 634.58,245.99 634.29,245.98 634.00,245.97 633.72,245.96 633.43,245.94 633.14,245.92 632.85,245.91 632.56,245.89 632.27,245.87 631.99,245.85 631.70,245.83 631.41,245.82 631.12,245.80 630.83,245.78 630.54,245.76 630.26,245.74 629.97,245.72 629.68,245.70 629.39,245.68 629.10,245.66 628.81,245.65 628.52,245.63 628.24,245.61 627.95,245.60 627.66,245.58 627.37,245.57 627.08,245.56 626.79,245.55 626.51,245.54 626.22,245.53 625.93,245.52 625.64,245.51 625.35,245.51 625.06,245.50 624.77,245.50 624.49,245.49 624.20,245.49 623.91,245.49 623.62,245.48 623.33,245.48 623.04,245.48 622.76,245.48 622.47,245.48 622.18,245.49 621.89,245.49 621.60,245.49 621.31,245.49 621.02,245.49 620.74,245.50 620.45,245.50 620.16,245.50 619.87,245.50 619.58,245.51 619.29,245.51 619.01,245.51 618.72,245.52 618.43,245.52 618.14,245.52 617.85,245.53 617.56,245.53 617.27,245.53 616.99,245.54 616.70,245.54 616.41,245.55 616.12,245.55 615.83,245.56 615.54,245.56 615.26,245.57 614.97,245.57 614.68,245.58 614.39,245.59 614.10,245.59 613.81,245.60 613.53,245.61 613.24,245.62 612.95,245.63 612.66,245.63 612.37,245.64 612.08,245.65 611.79,245.66 611.51,245.67 611.22,245.68 610.93,245.69 610.64,245.70 610.35,245.72 610.06,245.73 609.78,245.74 609.49,245.75 609.20,245.75 608.91,245.76 608.62,245.77 608.33,245.78 608.04,245.79 607.76,245.79 607.47,245.80 607.18,245.81 606.89,245.81 606.60,245.81 606.31,245.81 606.03,245.82 605.74,245.82 605.45,245.81 605.16,245.81 604.87,245.81 604.58,245.81 604.29,245.80 604.01,245.79 603.72,245.79 603.43,245.78 603.14,245.77 602.85,245.76 602.56,245.75 602.28,245.74 601.99,245.73 601.70,245.72 601.41,245.71 601.12,245.70 600.83,245.69 600.55,245.68 600.26,245.67 599.97,245.66 599.68,245.65 599.39,245.64 599.10,245.63 598.81,245.62 598.53,245.61 598.24,245.61 597.95,245.60 597.66,245.60 597.37,245.59 597.08,245.59 596.80,245.59 596.51,245.59 596.22,245.59 595.93,245.59 595.64,245.59 595.35,245.59 595.06,245.59 594.78,245.60 594.49,245.60 594.20,245.60 593.91,245.61 593.62,245.61 593.33,245.62 593.05,245.62 592.76,245.63 592.47,245.63 592.18,245.64 591.89,245.64 591.60,245.65 591.31,245.65 591.03,245.65 590.74,245.65 590.45,245.66 590.16,245.66 589.87,245.66 589.58,245.66 589.30,245.66 589.01,245.65 588.72,245.65 588.43,245.65 588.14,245.65 587.85,245.64 587.57,245.64 587.28,245.63 586.99,245.63 586.70,245.62 586.41,245.62 586.12,245.61 585.83,245.61 585.55,245.60 585.26,245.60 584.97,245.60 584.68,245.59 584.39,245.59 584.10,245.59 583.82,245.58 583.53,245.58 583.24,245.58 582.95,245.59 582.66,245.59 582.37,245.59 582.08,245.59 581.80,245.60 581.51,245.60 581.22,245.61 580.93,245.62 580.64,245.63 580.35,245.63 580.07,245.64 579.78,245.65 579.49,245.66 579.20,245.67 578.91,245.68 578.62,245.69 578.33,245.70 578.05,245.71 577.76,245.72 577.47,245.73 577.18,245.74 576.89,245.75 576.60,245.75 576.32,245.76 576.03,245.77 575.74,245.77 575.45,245.77 575.16,245.77 574.87,245.77 574.58,245.77 574.30,245.77 574.01,245.76 573.72,245.76 573.43,245.75 573.14,245.74 572.85,245.74 572.57,245.73 572.28,245.72 571.99,245.71 571.70,245.70 571.41,245.68 571.12,245.67 570.84,245.66 570.55,245.65 570.26,245.64 569.97,245.63 569.68,245.61 569.39,245.60 569.10,245.60 568.82,245.59 568.53,245.58 568.24,245.57 567.95,245.57 567.66,245.56 567.37,245.56 567.09,245.56 566.80,245.56 566.51,245.56 566.22,245.57 565.93,245.57 565.64,245.57 565.35,245.58 565.07,245.59 564.78,245.60 564.49,245.61 564.20,245.62 563.91,245.63 563.62,245.64 563.34,245.65 563.05,245.66 562.76,245.67 562.47,245.68 562.18,245.69 561.89,245.70 561.60,245.71 561.32,245.72 561.03,245.73 560.74,245.73 560.45,245.74 560.16,245.74 559.87,245.74 559.59,245.74 559.30,245.74 559.01,245.74 558.72,245.74 558.43,245.73 558.14,245.73 557.86,245.72 557.57,245.71 557.28,245.70 556.99,245.69 556.70,245.68 556.41,245.67 556.12,245.65 555.84,245.64 555.55,245.63 555.26,245.62 554.97,245.61 554.68,245.59 554.39,245.58 554.11,245.57 553.82,245.57 553.53,245.56 553.24,245.55 552.95,245.55 552.66,245.54 552.37,245.54 552.09,245.54 551.80,245.54 551.51,245.55 551.22,245.55 550.93,245.56 550.64,245.56 550.36,245.57 550.07,245.58 549.78,245.60 549.49,245.61 549.20,245.62 548.91,245.64 548.62,245.65 548.34,245.67 548.05,245.68 547.76,245.70 547.47,245.71 547.18,245.73 546.89,245.74 546.61,245.75 546.32,245.76 546.03,245.77 545.74,245.78 545.45,245.79 545.16,245.79 544.87,245.80 544.59,245.80 544.30,245.80 544.01,245.80 543.72,245.79 543.43,245.79 543.14,245.78 542.86,245.77 542.57,245.76 542.28,245.74 541.99,245.73 541.70,245.72 541.41,245.70 541.13,245.68 540.84,245.67 540.55,245.65 540.26,245.63 539.97,245.61 539.68,245.60 539.39,245.58 539.11,245.56 538.82,245.55 538.53,245.54 538.24,245.53 537.95,245.52 537.66,245.51 537.38,245.51 537.09,245.50 536.80,245.50 536.51,245.50 536.22,245.50 535.93,245.51 535.64,245.52 535.36,245.53 535.07,245.54 534.78,245.55 534.49,245.57 534.20,245.58 533.91,245.60 533.63,245.62 533.34,245.64 533.05,245.66 532.76,245.68 532.47,245.69 532.18,245.71 531.89,245.73 531.61,245.75 531.32,245.76 531.03,245.78 530.74,245.79 530.45,245.80 530.16,245.81 529.88,245.82 529.59,245.82 529.30,245.83 529.01,245.83 528.72,245.82 528.43,245.82 528.15,245.81 527.86,245.80 527.57,245.79 527.28,245.78 526.99,245.76 526.70,245.74 526.41,245.72 526.13,245.70 525.84,245.68 525.55,245.66 525.26,245.64 524.97,245.62 524.68,245.60 524.40,245.58 524.11,245.56 523.82,245.54 523.53,245.52 523.24,245.51 522.95,245.49 522.66,245.48 522.38,245.47 522.09,245.47 521.80,245.46 521.51,245.46 521.22,245.46 520.93,245.47 520.65,245.48 520.36,245.49 520.07,245.50 519.78,245.52 519.49,245.53 519.20,245.55 518.91,245.57 518.63,245.59 518.34,245.62 518.05,245.64 517.76,245.67 517.47,245.69 517.18,245.72 516.90,245.74 516.61,245.76 516.32,245.78 516.03,245.80 515.74,245.82 515.45,245.84 515.17,245.85 514.88,245.86 514.59,245.87 514.30,245.87 514.01,245.88 513.72,245.88 513.43,245.87 513.15,245.86 512.86,245.85 512.57,245.84 512.28,245.82 511.99,245.81 511.70,245.78 511.42,245.76 511.13,245.74 510.84,245.71 510.55,245.68 510.26,245.66 509.97,245.63 509.68,245.60 509.40,245.57 509.11,245.55 508.82,245.52 508.53,245.50 508.24,245.48 507.95,245.46 507.67,245.44 507.38,245.43 507.09,245.42 506.80,245.41 506.51,245.41 506.22,245.41 505.93,245.41 505.65,245.42 505.36,245.43 505.07,245.44 504.78,245.46 504.49,245.48 504.20,245.50 503.92,245.52 503.63,245.55 503.34,245.58 503.05,245.61 502.76,245.64 502.47,245.67 502.18,245.70 501.90,245.73 501.61,245.76 501.32,245.79 501.03,245.82 500.74,245.84 500.45,245.86 500.17,245.88 499.88,245.90 499.59,245.91 499.30,245.92 499.01,245.93 498.72,245.93 498.44,245.93 498.15,245.92 497.86,245.91 497.57,245.90 497.28,245.88 496.99,245.86 496.70,245.84 496.42,245.82 496.13,245.79 495.84,245.76 495.55,245.72 495.26,245.69 494.97,245.66 494.69,245.62 494.40,245.59 494.11,245.55 493.82,245.52 493.53,245.49 493.24,245.46 492.95,245.44 492.67,245.41 492.38,245.39 492.09,245.38 491.80,245.37 491.51,245.36 491.22,245.36 490.94,245.36 490.65,245.36 490.36,245.37 490.07,245.38 489.78,245.40 489.49,245.42 489.20,245.45 488.92,245.48 488.63,245.51 488.34,245.54 488.05,245.58 487.76,245.61 487.47,245.65 487.19,245.69 486.90,245.73 486.61,245.77 486.32,245.80 486.03,245.84 485.74,245.87 485.46,245.90 485.17,245.93 484.88,245.95 484.59,245.97 484.30,245.98 484.01,245.99 483.72,246.00 483.44,246.00 483.15,245.99 482.86,245.98 482.57,245.97 482.28,245.95 481.99,245.93 481.71,245.90 481.42,245.87 481.13,245.83 480.84,245.79 480.55,245.75 480.26,245.71 479.97,245.67 479.69,245.62 479.40,245.58 479.11,245.54 478.82,245.49 478.53,245.45 478.24,245.41 477.96,245.38 477.67,245.35 477.38,245.32 477.09,245.29 476.80,245.27 476.51,245.26 476.22,245.25 475.94,245.25 475.65,245.25 475.36,245.26 475.07,245.27 474.78,245.29 474.49,245.31 474.21,245.34 473.92,245.37 473.63,245.41 473.34,245.45 473.05,245.50 472.76,245.54 472.47,245.59 472.19,245.64 471.90,245.69 471.61,245.74 471.32,245.79 471.03,245.83 470.74,245.88 470.46,245.92 470.17,245.96 469.88,245.99 469.59,246.02 469.30,246.05 469.01,246.07 468.73,246.08 468.44,246.09 468.15,246.09 467.86,246.09 467.57,246.08 467.28,246.06 466.99,246.04 466.71,246.01 466.42,245.98 466.13,245.95 465.84,245.90 465.55,245.86 465.26,245.81 464.98,245.76 464.69,245.71 464.40,245.66 464.11,245.61 463.82,245.56 463.53,245.51 463.24,245.46 462.96,245.41 462.67,245.37 462.38,245.34 462.09,245.30 461.80,245.28 461.51,245.25 461.23,245.24 460.94,245.23 460.65,245.23 460.36,245.23 460.07,245.24 459.78,245.26 459.49,245.28 459.21,245.31 458.92,245.35 458.63,245.39 458.34,245.43 458.05,245.48 457.76,245.53 457.48,245.59 457.19,245.64 456.90,245.70 456.61,245.76 456.32,245.81 456.03,245.87 455.75,245.92 455.46,245.97 455.17,246.02 454.88,246.06 454.59,246.09 454.30,246.12 454.01,246.14 453.73,246.16 453.44,246.16 453.15,246.16 452.86,246.16 452.57,246.14 452.28,246.12 452.00,246.09 451.71,246.05 451.42,246.01 451.13,245.96 450.84,245.90 450.55,245.85 450.26,245.78 449.98,245.71 449.69,245.64 449.40,245.57 449.11,245.50 448.82,245.43 448.53,245.36 448.25,245.29 447.96,245.23 447.67,245.17 447.38,245.12 447.09,245.07 446.80,245.03 446.51,244.99 446.23,244.96 445.94,244.95 445.65,244.94 445.36,244.93 445.07,244.94 444.78,244.96 444.50,244.98 444.21,245.01 443.92,245.06 443.63,245.10 443.34,245.16 443.05,245.22 442.77,245.29 442.48,245.36 442.19,245.44 441.90,245.52 441.61,245.60 441.32,245.68 441.03,245.76 440.75,245.84 440.46,245.92 440.17,245.99 439.88,246.06 439.59,246.12 439.30,246.18 439.02,246.23 438.73,246.28 438.44,246.31 438.15,246.34 437.86,246.36 437.57,246.37 437.28,246.37 437.00,246.36 436.71,246.35 436.42,246.32 436.13,246.29 435.84,246.25 435.55,246.21 435.27,246.16 434.98,246.10 434.69,246.04 434.40,245.98 434.11,245.91 433.82,245.84 433.53,245.78 433.25,245.71 432.96,245.65 432.67,245.59 432.38,245.54 432.09,245.49 431.80,245.44 431.52,245.40 431.23,245.37 430.94,245.35 430.65,245.33 430.36,245.33 430.07,245.33 429.78,245.34 429.50,245.36 429.21,245.38 428.92,245.42 428.63,245.46 428.34,245.50 428.05,245.56 427.77,245.61 427.48,245.66 427.19,245.71 426.90,245.76 426.61,245.80 426.32,245.83 426.04,245.86 425.75,245.88 425.46,245.89 425.17,245.89 424.88,245.89 424.59,245.86 424.30,245.83 424.02,245.78 423.73,245.72 423.44,245.64 423.15,245.55 422.86,245.45 422.57,245.33 422.29,245.19 422.00,245.05 421.71,244.89 421.42,244.72 421.13,244.54 420.84,244.35 420.55,244.15 420.27,243.95 419.98,243.75 419.69,243.54 419.40,243.33 419.11,243.12 418.82,242.92 418.54,242.72 418.25,242.53 417.96,242.35 417.67,242.19 417.38,242.04 417.09,241.91 416.80,241.80 416.52,241.70 416.23,241.64 415.94,241.60 415.65,241.59 415.36,241.60 415.07,241.65 414.79,241.73 414.50,241.82 414.21,241.95 413.92,242.11 413.63,242.30 413.34,242.53 413.06,242.79 412.77,243.09 412.48,243.42 412.19,243.78 411.90,244.17 411.61,244.58 411.32,245.02 411.04,245.49 410.75,245.98 410.46,246.50 410.17,247.04 409.88,247.60 409.59,248.18 409.31,248.78 409.02,249.39 408.73,250.02 408.44,250.66 408.15,251.32 407.86,251.98 407.57,252.66 407.29,253.34 407.00,254.03 406.71,254.72 406.42,255.42 406.13,256.11 405.84,256.81 405.56,257.51 405.27,258.21 404.98,258.90 404.69,259.60 404.40,260.28 404.11,260.97 403.82,261.65 403.54,262.32 403.25,262.99 402.96,263.65 402.67,264.30 402.38,264.94 402.09,265.58 401.81,266.21 401.52,266.83 401.23,267.45 400.94,268.05 400.65,268.65 400.36,269.24 400.08,269.82 399.79,270.39 399.50,270.96 399.21,271.51 398.92,272.06 398.63,272.60 398.34,273.14 398.06,273.66 397.77,274.18 397.48,274.70 397.19,275.20 396.90,275.70 396.61,276.20 396.33,276.68 396.04,277.16 395.75,277.64 395.46,278.11 395.17,278.57 394.88,279.03 394.59,279.48 394.31,279.93 394.02,280.38 393.73,280.82 393.44,281.25 393.15,281.68 392.86,282.11 392.58,282.53 392.29,282.95 392.00,283.36 391.71,283.77 391.42,284.18 391.13,284.58 390.84,284.98 390.56,285.38 390.27,285.77 389.98,286.16 389.69,286.55 389.40,286.93 389.11,287.31 388.83,287.69 388.54,288.07 388.25,288.44 387.96,288.81 387.67,289.18 387.38,289.54 387.09,289.91 386.81,290.27 386.52,290.62 386.23,290.98 385.94,291.33 385.65,291.68 385.36,292.03 385.08,292.38 384.79,292.72 384.50,293.07 384.21,293.41 383.92,293.75 383.63,294.08 383.35,294.42 383.06,294.75 382.77,295.08 382.48,295.41 382.19,295.74 381.90,296.06 381.61,296.39 381.33,296.71 381.04,297.03 380.75,297.35 380.46,297.66 380.17,297.98 379.88,298.29 379.60,298.61 379.31,298.92 379.02,299.23 378.73,299.53 378.44,299.84 378.15,300.15 377.86,300.45 377.58,300.75 377.29,301.05 377.00,301.35 376.71,301.65 376.42,301.95 376.13,302.24 375.85,302.54 375.56,302.83 375.27,303.12 374.98,303.41 374.69,303.70 374.40,303.99 374.11,304.28 373.83,304.56 373.54,304.85 373.25,305.13 372.96,305.41 372.67,305.70 372.38,305.98 372.10,306.25 371.81,306.53 371.52,306.81 371.23,307.09 370.94,307.36 370.65,307.63 370.37,307.91 370.08,308.18 369.79,308.45 369.50,308.72 369.21,308.99 368.92,309.26 368.63,309.52 368.35,309.79 368.06,310.05 367.77,310.32 367.48,310.58 367.19,310.84 366.90,311.11 366.62,311.37 366.33,311.63 366.04,311.88 365.75,312.14 365.46,312.40 365.17,312.66 364.88,312.91 364.60,313.17 364.31,313.42 364.02,313.67 363.73,313.93 363.44,314.18 363.15,314.43 362.87,314.68 362.58,314.93 362.29,315.18 362.00,315.42 361.71,315.67 361.42,315.92 361.13,316.16 360.85,316.41 360.56,316.65 360.27,316.89 359.98,317.14 359.69,317.38 359.40,317.62 359.12,317.86 358.83,318.10 358.54,318.34 358.25,318.58 357.96,318.82 357.67,319.05 357.38,319.29 357.10,319.52 356.81,319.76 356.52,319.99 356.23,320.23 355.94,320.46 355.65,320.69 355.37,320.93 355.08,321.16 354.79,321.39 354.50,321.62 354.21,321.85 353.92,322.08 353.64,322.31 353.35,322.53 353.06,322.76 352.77,322.99 352.48,323.21 352.19,323.44 351.90,323.66 351.62,323.89 351.33,324.11 351.04,324.34 350.75,324.56 350.46,324.78 350.17,325.00 349.89,325.22 349.60,325.45 349.31,325.67 349.02,325.89 348.73,326.10 348.44,326.32 348.15,326.54 347.87,326.76 347.58,326.98 347.29,327.19 347.00,327.41 346.71,327.62 346.42,327.84 346.14,328.05 345.85,328.27 345.56,328.48 345.27,328.70 344.98,328.91 344.69,329.12 344.40,329.33 344.12,329.54 343.83,329.75 343.54,329.96 343.25,330.17 342.96,330.38 342.67,330.59 342.39,330.80 342.10,331.01 341.81,331.22 341.52,331.42 341.23,331.63 340.94,331.84 340.66,332.04 340.37,332.25 340.08,332.45 339.79,332.66 339.50,332.86 339.21,333.07 338.92,333.27 338.64,333.47 338.35,333.68 338.06,333.88 337.77,334.08 337.48,334.28 337.19,334.48 336.91,334.68 336.62,334.88 336.33,335.08 336.04,335.28 335.75,335.48 335.46,335.68 335.17,335.88 334.89,336.08 334.60,336.28 334.31,336.47 334.02,336.67 333.73,336.87 333.44,337.06 333.16,337.26 332.87,337.45 332.58,337.65 332.29,337.84 332.00,338.04 331.71,338.23 331.42,338.43 331.14,338.62 330.85,338.81 330.56,339.00 330.27,339.20 329.98,339.39 329.69,339.58 329.41,339.77 329.12,339.96 328.83,340.15 328.54,340.34 328.25,340.53 327.96,340.72 327.68,340.91 327.39,341.10 327.10,341.29 326.81,341.48 326.52,341.66 326.23,341.85 325.94,342.04 325.66,342.23 325.37,342.41 325.08,342.60 324.79,342.78 324.50,342.97 324.21,343.15 323.93,343.34 323.64,343.52 323.35,343.71 323.06,343.89 322.77,344.08 322.48,344.26 322.19,344.44 321.91,344.63 321.62,344.81 321.33,344.99 321.04,345.17 320.75,345.35 320.46,345.54 320.18,345.72 319.89,345.90 319.60,346.08 319.31,346.26 319.02,346.44 318.73,346.62 318.44,346.80 318.16,346.98 317.87,347.16 317.58,347.33 317.29,347.51 317.00,347.69 316.71,347.87 316.43,348.05 316.14,348.22 315.85,348.40 315.56,348.58 315.27,348.75 314.98,348.93 314.69,349.10 314.41,349.28 314.12,349.45 313.83,349.63 313.54,349.80 313.25,349.98 312.96,350.15 312.68,350.33 312.39,350.50 312.10,350.67 311.81,350.85 311.52,351.02 311.23,351.19 310.95,351.37 310.66,351.54 310.37,351.71 310.08,351.88 309.79,352.05 309.50,352.22 309.21,352.39 308.93,352.57 308.64,352.74 308.35,352.91 308.06,353.08 307.77,353.25 307.48,353.41 307.20,353.58 306.91,353.75 306.62,353.92 306.33,354.09 306.04,354.26 305.75,354.43 305.46,354.59 305.18,354.76 304.89,354.93 304.60,355.10 304.31,355.26 304.02,355.43 303.73,355.60 303.45,355.76 303.16,355.93 302.87,356.09 302.58,356.26 302.29,356.42 302.00,356.59 301.71,356.75 301.43,356.92 301.14,357.08 300.85,357.25 300.56,357.41 300.27,357.57 299.98,357.74 299.70,357.90 299.41,358.06 299.12,358.23 298.83,358.39 298.54,358.55 298.25,358.71 297.97,358.88 297.68,359.04 297.39,359.20 297.10,359.36 296.81,359.52 296.52,359.68 296.23,359.84 295.95,360.00 295.66,360.16 295.37,360.32 295.08,360.48 294.79,360.64 294.50,360.80 294.22,360.96 293.93,361.12 293.64,361.28 293.35,361.44 293.06,361.60 292.77,361.76 292.48,361.91 292.20,362.07 291.91,362.23 291.62,362.39 291.33,362.54 291.04,362.70 290.75,362.86 290.47,363.01 290.18,363.17 289.89,363.33 289.60,363.48 289.31,363.64 289.02,363.79 288.73,363.95 288.45,364.10 288.16,364.26 287.87,364.41 287.58,364.57 287.29,364.72 287.00,364.88 286.72,365.03 286.43,365.19 286.14,365.34 285.85,365.49 285.56,365.65 285.27,365.80 284.98,365.95 284.70,366.11 284.41,366.26 284.12,366.41 283.83,366.56 283.54,366.71 283.25,366.87 282.97,367.02 282.68,367.17 282.39,367.32 282.10,367.47 281.81,367.62 281.52,367.77 281.24,367.92 280.95,368.08 280.66,368.23 280.37,368.38 280.08,368.53 279.79,368.67 279.50,368.82 279.22,368.97 278.93,369.12 278.64,369.27 278.35,369.42 278.06,369.57 277.77,369.72 277.49,369.87 277.20,370.01 276.91,370.16 276.62,370.31 276.33,370.46 276.04,370.61 275.75,370.75 275.47,370.90 275.18,371.05 274.89,371.19 274.60,371.34 274.31,371.49 274.02,371.63 273.74,371.78 273.45,371.92 273.16,372.07 272.87,372.22 272.58,372.36 272.29,372.51 272.00,372.65 271.72,372.80 271.43,372.94 271.14,373.09 270.85,373.23 270.56,373.37 270.27,373.52 269.99,373.66 269.70,373.81 269.41,373.95 269.12,374.09 268.83,374.24 268.54,374.38 268.26,374.52 267.97,374.67 267.68,374.81 267.39,374.95 267.10,375.09 266.81,375.24 266.52,375.38 266.24,375.52 265.95,375.66 265.66,375.80 265.37,375.94 265.08,376.08 264.79,376.23 264.51,376.37 264.22,376.51 263.93,376.65 263.64,376.79 263.35,376.93 263.06,377.07 262.77,377.21 262.49,377.35 262.20,377.49 261.91,377.63 261.62,377.77 261.33,377.91 261.04,378.05 260.76,378.18 260.47,378.32 260.18,378.46 259.89,378.60 259.60,378.74 259.31,378.88 259.02,379.02 258.74,379.15 258.45,379.29 258.16,379.43 257.87,379.57 257.58,379.70 257.29,379.84 257.01,379.98 256.72,380.11 256.43,380.25 256.14,380.39 255.85,380.52 255.56,380.66 255.28,380.80 254.99,380.93 254.70,381.07 254.41,381.20 254.12,381.34 253.83,381.47 253.54,381.61 253.26,381.74 252.97,381.88 252.68,382.01 252.39,382.15 252.10,382.28 251.81,382.42 251.53,382.55 251.24,382.69 250.95,382.82 250.66,382.95 250.37,383.09 250.08,383.22 249.79,383.35 249.51,383.49 249.22,383.62 248.93,383.75 248.64,383.89 248.35,384.02 248.06,384.15 247.78,384.28 247.49,384.42 247.20,384.55 246.91,384.68 246.62,384.81 246.33,384.94 246.04,385.08 245.76,385.21 245.47,385.34 245.18,385.47 244.89,385.60 244.60,385.73 244.31,385.86 244.03,385.99 243.74,386.12 243.45,386.25 243.16,386.38 242.87,386.51 242.58,386.64 242.29,386.77 242.01,386.90 241.72,387.03 241.43,387.16 241.14,387.29 240.85,387.42 240.56,387.55 240.28,387.68 239.99,387.81 239.70,387.94 239.41,388.07 239.12,388.19 238.83,388.32 238.55,388.45 238.26,388.58 237.97,388.71 237.68,388.83 237.39,388.96 237.10,389.09 236.81,389.22 236.53,389.34 236.24,389.47 235.95,389.60 235.66,389.72 235.37,389.85 235.08,389.98 234.80,390.10 234.51,390.23 234.22,390.36 233.93,390.48 233.64,390.61 233.35,390.73 233.06,390.86 232.78,390.99 232.49,391.11 232.20,391.24 231.91,391.36 231.62,391.49 231.33,391.61 231.05,391.74 230.76,391.86 230.47,391.99 230.18,392.11 229.89,392.23 229.60,392.36 229.31,392.48 229.03,392.61 228.74,392.73 228.45,392.85 228.16,392.98 227.87,393.10 227.58,393.22 227.30,393.35 227.01,393.47 226.72,393.59 226.43,393.72 226.14,393.84 225.85,393.96 225.57,394.08 225.28,394.21 224.99,394.33 224.70,394.45 224.41,394.57 224.12,394.69 223.83,394.82 223.55,394.94 223.26,395.06 222.97,395.18 222.68,395.30 222.39,395.42 222.10,395.55 221.82,395.67 221.53,395.79 221.24,395.91 220.95,396.03 220.66,396.15 220.37,396.27 220.08,396.39 219.80,396.51 219.51,396.63 219.22,396.75 218.93,396.87 218.64,396.99 218.35,397.11 218.07,397.23 217.78,397.35 217.49,397.47 217.20,397.59 216.91,397.70 216.62,397.82 216.33,397.94 216.05,398.06 215.76,398.18 215.47,398.30 215.18,398.42 214.89,398.53 214.60,398.65 214.32,398.77 214.03,398.89 213.74,399.01 213.45,399.12 213.16,399.24 212.87,399.36 212.58,399.48 212.30,399.59 212.01,399.71 211.72,399.83 211.43,399.94 211.14,400.06 210.85,400.18 210.57,400.29 210.28,400.41 209.99,400.53 209.70,400.64 209.41,400.76 209.12,400.88 208.84,400.99 208.55,401.11 208.26,401.22 207.97,401.34 207.68,401.45 207.39,401.57 207.10,401.69 206.82,401.80 206.53,401.92 206.24,402.03 205.95,402.15 205.66,402.26 205.37,402.38 205.09,402.49 204.80,402.60 204.51,402.72 204.22,402.83 203.93,402.95 203.64,403.06 203.35,403.18 203.07,403.29 202.78,403.40 202.49,403.52 202.20,403.63 201.91,403.74 201.62,403.86 201.34,403.97 201.05,404.08 200.76,404.20 200.47,404.31 200.18,404.42 199.89,404.53 199.60,404.65 199.32,404.76 199.03,404.87 198.74,404.98 198.45,405.10 198.16,405.21 197.87,405.32 197.59,405.43 197.30,405.55 197.01,405.66 196.72,405.77 196.43,405.88 196.14,405.99 195.86,406.10 195.57,406.21 195.28,406.33 194.99,406.44 194.70,406.55 194.41,406.66 194.12,406.77 193.84,406.88 193.55,406.99 193.26,407.10 192.97,407.21 192.68,407.32 192.39,407.43 192.11,407.54 191.82,407.65 191.53,407.76 191.24,407.87 190.95,407.98 190.66,408.09 190.37,408.20 190.09,408.31 189.80,408.42 189.51,408.53 189.22,408.64 188.93,408.75 188.64,408.86 188.36,408.97 188.07,409.08 187.78,409.18 187.49,409.29 187.20,409.40 186.91,409.51 186.62,409.62 186.34,409.73 186.05,409.83 185.76,409.94 185.47,410.05 185.18,410.16 184.89,410.27 184.61,410.38 184.32,410.48 184.03,410.59 183.74,410.70 183.45,410.81 183.16,410.91 182.88,411.02 182.59,411.13 182.30,411.23 182.01,411.34 181.72,411.45 181.43,411.56 181.14,411.66 180.86,411.77 180.57,411.88 180.28,411.98 179.99,412.09 179.70,412.20 179.41,412.30 179.13,412.41 178.84,412.51 178.55,412.62 178.26,412.73 177.97,412.83 177.68,412.94 177.39,413.04 177.11,413.15 176.82,413.26 176.53,413.36 176.24,413.47 175.95,413.57 175.66,413.68 175.38,413.78 175.09,413.89 174.80,413.99 174.51,414.10 174.22,414.20 173.93,414.31 173.64,414.41 173.36,414.52 173.07,414.62 172.78,414.73 172.49,414.83 172.20,414.94 171.91,415.04 171.63,415.15 171.34,415.25 171.05,415.35 170.76,415.46 170.47,415.56 170.18,415.67 169.89,415.77 169.61,415.87 169.32,415.98 169.03,416.08 168.74,416.18 168.45,416.29 168.16,416.39 167.88,416.50 167.59,416.60 167.30,416.70 167.01,416.81 166.72,416.91 166.43,417.01 166.15,417.11 165.86,417.22 165.57,417.32 165.28,417.42 164.99,417.53 164.70,417.63 164.41,417.73 164.13,417.83 163.84,417.94 163.55,418.04 163.26,418.14 162.97,418.24 162.68,418.35 162.40,418.45 162.11,418.55 161.82,418.65 161.53,418.75 161.24,418.86 160.95,418.96 160.66,419.06 160.38,419.16 160.09,419.26 159.80,419.37 159.51,419.47 159.22,419.57 158.93,419.67 158.65,419.77 158.36,419.87 158.07,419.98 157.78,420.08 157.49,420.18 157.20,420.28 156.91,420.38 156.63,420.48 156.34,420.58 156.05,420.68 155.76,420.78 155.47,420.89 155.18,420.99 154.90,421.09 154.61,421.19 154.32,421.29 154.03,421.39 153.74,421.49 153.45,421.59 153.17,421.69 152.88,421.79 152.59,421.89 152.30,421.99 152.01,422.09 151.72,422.19 151.43,422.29 151.15,422.39 150.86,422.49 150.57,422.59 150.28,422.69 149.99,422.79 149.70,422.89 149.42,422.99 149.13,423.09 148.84,423.19 148.55,423.29 Z" fill="#e9d5c5"/>
<rect x="406.87" y="40.20" width="303.37" height="719.10" fill="#dbdee3"/>
<!-- bragg -->
<g fill="none" stroke="#8f98a6" stroke-width="2.1" stroke-linejoin="round"><path d="M103.50,751.36 210.82,749.57 271.97,748.11 297.48,747.23 319.11,746.23 337.37,745.11 352.73,743.83 365.00,742.42 375.34,740.78 383.74,738.91 390.50,736.74 394.85,734.75 398.52,732.40 401.90,729.41 408.08,722.70 409.73,721.54 411.18,721.18 412.34,721.49 413.49,722.42 414.65,723.99 415.81,726.18 417.84,731.27 422.87,746.08 425.47,752.04 426.73,754.14 427.98,755.76 429.43,757.11 430.88,758.01 433.88,758.93 438.32,759.26 489.81,759.30"/><path d="M103.50,752.16 217.34,750.52 280.79,749.22 330.08,747.54 349.15,746.53 365.22,745.38 378.07,744.11 388.81,742.64 397.64,740.94 404.67,738.98 409.19,737.19 413.00,735.07 416.51,732.37 423.04,726.21 424.65,725.23 426.15,724.91 427.36,725.21 428.56,726.06 429.77,727.51 430.97,729.52 433.08,734.17 438.20,747.36 440.91,752.77 442.21,754.67 443.52,756.14 444.92,757.29 446.43,758.12 449.44,758.95 454.06,759.26 504.96,759.30"/><path d="M103.50,751.92 224.14,750.20 289.67,748.88 317.48,748.07 341.13,747.15 361.03,746.11 377.70,744.92 391.14,743.61 402.28,742.09 411.45,740.34 418.85,738.30 423.64,736.40 427.60,734.18 431.24,731.35 437.81,725.11 439.47,724.07 441.04,723.70 442.29,723.98 443.54,724.84 444.79,726.31 446.04,728.38 448.23,733.20 453.43,746.69 456.35,752.56 457.60,754.40 458.96,755.95 460.41,757.17 461.98,758.05 465.10,758.93 469.79,759.26 520.11,759.30"/><path d="M103.50,752.42 230.79,750.81 298.49,749.60 352.04,747.99 372.77,747.02 390.15,745.92 404.19,744.69 415.74,743.28 425.24,741.66 432.91,739.76 437.88,738.01 441.98,735.96 445.87,733.25 452.67,727.41 454.40,726.43 456.01,726.09 457.31,726.36 458.61,727.18 459.90,728.58 461.20,730.54 463.46,735.08 468.75,747.49 471.67,752.84 472.97,754.60 474.37,756.09 475.88,757.25 477.50,758.10 480.74,758.94 485.49,759.26 535.26,759.30"/><path d="M103.50,751.64 237.61,749.83 307.35,748.50 337.52,747.67 363.00,746.73 384.46,745.66 402.56,744.43 417.20,743.06 429.27,741.49 439.11,739.68 447.04,737.58 452.18,735.63 456.54,733.28 460.45,730.35 467.49,723.81 469.28,722.71 470.96,722.33 472.19,722.58 473.31,723.25 474.42,724.37 475.65,726.12 478.00,730.80 483.59,744.93 486.27,750.65 487.83,753.22 489.51,755.33 491.19,756.83 492.98,757.89 494.54,758.48 496.33,758.88 501.13,759.25 550.42,759.30"/><path d="M103.50,751.61 244.58,749.77 316.22,748.46 347.54,747.62 374.00,746.68 396.30,745.61 415.02,744.38 430.15,743.02 442.75,741.43 453.03,739.60 461.24,737.49 466.55,735.52 470.94,733.24 475.10,730.21 482.38,723.63 484.23,722.53 485.96,722.16 487.12,722.39 488.39,723.13 489.55,724.29 490.70,725.90 493.24,730.84 498.91,744.82 501.68,750.59 503.30,753.19 504.91,755.19 506.65,756.74 508.50,757.84 511.85,758.85 516.82,759.24 565.58,759.30"/><path d="M103.50,751.28 251.48,749.34 324.99,748.00 357.33,747.14 384.78,746.16 407.93,745.05 427.39,743.77 443.14,742.34 456.15,740.70 466.77,738.80 475.36,736.58 480.97,734.48 485.50,732.08 489.68,729.00 497.32,722.03 499.23,720.91 500.90,720.56 502.21,720.84 503.40,721.56 504.60,722.76 505.79,724.45 508.42,729.61 514.26,744.24 517.01,750.05 518.68,752.80 520.35,754.93 522.14,756.58 524.05,757.75 525.72,758.39 527.51,758.82 532.64,759.24 580.74,759.30"/><path d="M103.50,750.92 258.52,748.89 333.88,747.51 367.37,746.61 395.81,745.60 419.82,744.44 439.89,743.11 456.15,741.63 469.69,739.90 480.77,737.90 489.51,735.61 495.30,733.42 499.98,730.92 504.41,727.60 512.05,720.50 514.02,719.29 515.86,718.88 517.22,719.17 518.45,719.93 519.68,721.20 520.91,722.97 523.62,728.39 529.53,743.40 532.49,749.75 534.09,752.42 535.81,754.67 537.53,756.32 539.50,757.59 541.23,758.30 543.08,758.77 548.25,759.23 595.90,759.30"/><path d="M103.50,750.75 265.58,748.65 342.75,747.26 377.40,746.36 406.72,745.33 431.47,744.15 452.28,742.80 469.16,741.28 483.12,739.53 494.55,737.50 503.69,735.13 509.52,732.96 514.47,730.35 518.92,727.07 527.04,719.61 529.07,718.42 530.85,718.07 532.24,718.38 533.51,719.17 534.78,720.48 536.05,722.29 538.84,727.87 544.81,742.91 547.85,749.44 549.50,752.19 551.28,754.51 553.06,756.22 555.09,757.53 556.87,758.27 558.77,758.75 563.97,759.22 611.06,759.30"/><path d="M103.50,750.04 272.64,747.76 351.60,746.28 387.41,745.31 417.61,744.20 443.23,742.94 464.66,741.48 482.05,739.85 496.43,737.97 508.32,735.76 517.73,733.22 523.88,730.83 528.98,728.00 533.55,724.45 541.92,716.38 544.01,715.10 545.84,714.73 547.28,715.07 548.58,715.95 549.89,717.38 551.20,719.37 553.94,725.12 560.22,741.74 563.22,748.52 565.05,751.73 566.75,754.06 568.58,755.92 570.54,757.29 572.37,758.12 574.33,758.67 579.69,759.21 626.23,759.30"/><path d="M103.50,749.82 279.84,747.48 360.54,745.99 397.40,745.00 428.74,743.87 455.10,742.58 477.16,741.10 495.18,739.42 509.98,737.50 522.09,735.28 527.33,734.00 531.91,732.65 538.23,730.21 543.47,727.32 548.18,723.67 556.65,715.52 558.81,714.17 560.69,713.74 562.17,714.05 563.51,714.90 564.86,716.33 566.34,718.55 569.16,724.47 575.49,741.15 578.58,748.14 580.33,751.25 582.21,753.87 584.09,755.80 586.11,757.22 587.99,758.08 590.01,758.64 595.39,759.20 641.39,759.30"/><path d="M103.50,749.29 286.89,746.80 369.31,745.25 407.34,744.21 439.57,743.03 466.68,741.68 489.49,740.11 508.17,738.34 523.52,736.31 536.10,733.93 541.36,732.61 546.06,731.19 552.56,728.61 557.95,725.57 562.79,721.72 571.51,713.12 573.72,711.69 575.66,711.25 577.18,711.58 578.56,712.48 579.94,713.99 581.46,716.35 584.37,722.61 590.87,740.23 594.05,747.59 595.85,750.86 597.65,753.44 599.58,755.51 601.66,757.05 603.45,757.92 605.53,758.56 608.02,758.97 611.06,759.19 656.56,759.30"/><path d="M103.50,748.40 294.19,745.68 378.31,744.02 417.38,742.90 450.49,741.62 478.48,740.15 501.93,738.46 521.11,736.55 536.88,734.34 549.81,731.77 555.36,730.31 560.19,728.77 566.87,725.97 569.71,724.43 572.41,722.67 574.96,720.69 577.38,718.50 586.33,709.14 588.75,707.51 590.74,707.09 592.30,707.51 593.72,708.55 595.14,710.25 596.56,712.61 599.55,719.42 606.23,738.59 609.35,746.29 611.20,749.90 613.05,752.76 615.04,755.06 617.17,756.77 619.16,757.81 621.29,758.50 623.70,758.93 626.83,759.18 671.73,759.30"/><path d="M103.50,747.86 301.32,745.01 387.10,743.29 427.37,742.12 461.51,740.78 490.25,739.25 514.32,737.49 534.01,735.50 550.35,733.18 563.63,730.49 569.32,728.97 574.28,727.36 581.13,724.44 584.05,722.83 586.82,721.00 589.45,718.93 592.07,716.50 599.08,708.84 601.27,706.69 603.60,705.10 604.62,704.73 605.64,704.62 607.25,705.04 608.71,706.10 610.16,707.87 611.62,710.32 614.69,717.42 621.54,737.51 624.75,745.61 626.65,749.40 628.55,752.42 630.59,754.84 632.63,756.54 634.53,757.60 636.72,758.38 639.20,758.87 642.41,759.15 686.90,759.30"/><path d="M103.50,746.58 308.56,743.40 396.13,741.52 437.44,740.22 472.46,738.75 502.10,737.05 526.80,735.10 547.00,732.89 563.77,730.33 570.95,728.90 577.54,727.32 583.38,725.63 588.46,723.84 592.21,722.26 595.65,720.52 598.64,718.71 601.49,716.65 604.18,714.33 606.73,711.77 613.91,703.27 616.01,701.04 618.40,699.22 619.45,698.79 620.50,698.64 622.14,699.05 623.64,700.18 625.29,702.32 626.78,705.06 628.28,708.51 629.93,712.98 636.96,735.29 640.25,744.24 642.05,748.14 644.00,751.53 646.09,754.26 648.19,756.17 650.13,757.38 652.38,758.26 654.92,758.81 658.22,759.13 665.70,759.29 702.07,759.30"/><path d="M103.50,745.76 315.76,742.36 404.92,740.39 447.44,739.02 483.35,737.46 513.74,735.67 539.21,733.60 560.09,731.24 577.28,728.52 584.64,727.00 591.40,725.33 597.38,723.54 602.60,721.64 606.44,719.96 609.81,718.20 612.88,716.30 615.80,714.14 618.56,711.70 621.32,708.83 628.69,699.80 630.99,697.27 633.45,695.40 634.52,694.98 635.60,694.86 637.28,695.37 638.82,696.65 640.35,698.75 642.04,702.00 643.58,705.73 645.26,710.55 652.17,733.33 655.55,742.94 657.54,747.46 659.54,751.06 661.53,753.78 663.68,755.87 665.68,757.18 667.98,758.15 670.59,758.76 673.81,759.11 681.48,759.29 717.24,759.30"/><path d="M103.50,742.84 157.91,741.66 323.05,738.71 371.80,737.58 413.79,736.35 457.35,734.70 494.31,732.81 525.45,730.64 551.56,728.15 572.95,725.30 582.23,723.72 590.72,721.99 598.27,720.16 605.19,718.13 611.32,715.97 616.67,713.67 620.60,711.64 624.22,709.42 627.36,707.10 630.35,704.47 633.18,701.50 635.85,698.21 643.56,687.04 645.76,684.18 647.02,682.86 648.28,681.87 649.38,681.33 650.48,681.16 651.42,681.34 652.21,681.73 653.78,683.24 655.36,685.75 657.09,689.64 658.66,694.13 660.39,699.95 667.62,728.16 671.08,739.75 672.97,744.80 675.01,749.20 677.06,752.53 679.26,755.09 681.31,756.70 683.66,757.88 686.34,758.63 689.64,759.06 697.35,759.29 732.42,759.30"/><path d="M103.50,742.80 160.19,741.60 330.28,738.66 379.88,737.54 422.73,736.33 467.34,734.69 505.19,732.81 537.24,730.64 563.98,728.15 585.88,725.32 595.39,723.74 604.08,722.02 611.82,720.19 618.90,718.18 625.18,716.03 630.82,713.67 634.85,711.64 638.55,709.41 641.77,707.10 644.83,704.47 647.73,701.50 650.47,698.21 658.20,687.26 660.62,684.18 661.91,682.87 663.19,681.88 664.32,681.35 665.45,681.18 666.42,681.36 667.22,681.76 668.83,683.27 670.44,685.79 672.21,689.69 673.82,694.19 675.60,700.01 682.84,727.64 686.39,739.34 688.48,744.85 690.41,748.94 692.51,752.34 694.76,754.96 696.86,756.61 699.27,757.83 702.01,758.61 705.23,759.04 713.12,759.28 747.59,759.30"/><path d="M103.50,734.00 162.35,732.13 337.43,727.66 387.88,725.97 431.57,724.14 477.40,721.63 516.14,718.77 533.28,717.17 548.95,715.47 563.29,713.64 576.31,711.68 588.18,709.58 598.90,707.33 608.62,704.92 617.53,702.30 625.44,699.51 632.69,696.45 639.12,693.16 644.89,689.57 649.01,686.48 652.81,683.09 656.10,679.56 659.24,675.56 662.20,671.03 665.17,665.72 673.08,648.96 675.39,644.56 676.71,642.52 678.03,640.97 679.18,640.13 680.34,639.84 681.33,640.08 682.15,640.66 683.80,642.92 685.45,646.70 687.26,652.61 688.91,659.44 690.72,668.31 698.31,711.46 701.77,728.53 703.75,736.41 705.89,743.29 708.03,748.54 710.34,752.58 712.48,755.14 714.96,757.02 717.76,758.22 721.06,758.89 729.14,759.28 762.77,759.30"/><path d="M103.50,740.31 164.38,738.89 344.67,735.55 395.94,734.30 440.30,732.95 487.18,731.09 526.99,728.95 560.55,726.49 588.71,723.65 600.86,722.08 611.82,720.41 621.94,718.58 631.05,716.61 639.14,714.53 646.56,712.24 653.14,709.78 659.04,707.09 663.26,704.78 667.14,702.24 670.51,699.60 673.71,696.60 676.75,693.22 679.79,689.24 687.88,676.69 690.24,673.40 691.59,671.88 692.94,670.72 694.12,670.09 695.30,669.88 696.31,670.06 697.16,670.50 698.84,672.20 700.53,675.03 702.39,679.46 704.07,684.58 705.93,691.23 713.52,722.86 717.23,736.30 719.42,742.64 721.44,747.35 723.64,751.26 725.83,754.11 728.02,756.08 730.38,757.46 733.25,758.42 736.62,758.96 744.72,759.28 777.94,759.30"/><path d="M103.50,664.52 132.30,660.90 166.27,657.37 200.07,654.31 296.47,646.14 352.00,640.78 379.07,637.76 404.08,634.65 427.36,631.40 449.26,627.97 474.26,623.50 497.37,618.70 518.58,613.58 538.07,608.09 556.00,602.19 572.39,595.89 579.97,592.60 587.39,589.11 594.46,585.51 601.18,581.78 607.56,577.94 613.60,574.00 619.46,569.83 624.98,565.56 630.16,561.20 635.16,556.61 639.98,551.77 644.47,546.86 648.78,541.71 652.75,536.52 656.71,530.83 660.33,525.13 663.78,519.17 667.06,512.94 670.16,506.42 673.09,499.61 677.41,488.15 681.37,475.58 684.99,461.79 688.27,446.80 691.37,429.88 694.31,411.18 697.06,391.31 702.58,348.78 705.17,331.24 706.55,323.75 707.93,318.14 709.14,315.14 709.83,314.34 710.34,314.22 710.86,314.53 711.38,315.28 712.24,317.60 713.10,321.26 713.96,326.32 715.69,340.73 717.59,363.06 719.31,388.80 721.21,422.09 728.97,579.66 732.59,643.55 734.66,673.13 736.90,698.98 739.14,718.69 741.38,733.02 743.63,742.96 744.83,746.86 746.04,749.94 747.42,752.63 748.97,754.83 750.52,756.37 752.42,757.59 753.97,758.22 755.87,758.71 760.70,759.19 793.12,759.30"/></g>
<path d="M103.50,438.78 103.73,438.71 103.95,438.63 104.18,438.55 104.41,438.48 104.63,438.40 104.86,438.32 105.08,438.24 105.31,438.16 105.54,438.08 105.76,438.00 105.99,437.92 106.22,437.84 106.44,437.76 106.67,437.68 106.90,437.60 107.12,437.52 107.35,437.45 107.57,437.37 107.80,437.29 108.03,437.21 108.25,437.13 108.48,437.05 108.71,436.97 108.93,436.89 109.16,436.82 109.39,436.74 109.61,436.66 109.84,436.58 110.07,436.50 110.29,436.42 110.52,436.34 110.74,436.27 110.97,436.19 111.20,436.11 111.42,436.03 111.65,435.95 111.88,435.87 112.10,435.80 112.33,435.72 112.56,435.64 112.78,435.56 113.01,435.48 113.23,435.40 113.46,435.33 113.69,435.25 113.91,435.17 114.14,435.09 114.37,435.01 114.59,434.94 114.82,434.86 115.05,434.78 115.27,434.70 115.50,434.62 115.72,434.55 115.95,434.47 116.18,434.39 116.40,434.31 116.63,434.24 116.86,434.16 117.08,434.08 117.31,434.00 117.54,433.92 117.76,433.85 117.99,433.77 118.21,433.69 118.44,433.61 118.67,433.54 118.89,433.46 119.12,433.38 119.35,433.30 119.57,433.22 119.80,433.15 120.03,433.07 120.25,432.99 120.48,432.91 120.71,432.84 120.93,432.76 121.16,432.68 121.38,432.60 121.61,432.53 121.84,432.45 122.06,432.37 122.29,432.29 122.52,432.22 122.74,432.14 122.97,432.06 123.20,431.98 123.42,431.91 123.65,431.83 123.87,431.75 124.10,431.68 124.33,431.60 124.55,431.52 124.78,431.44 125.01,431.37 125.23,431.29 125.46,431.21 125.69,431.13 125.91,431.06 126.14,430.98 126.36,430.90 126.59,430.82 126.82,430.75 127.04,430.67 127.27,430.59 127.50,430.52 127.72,430.44 127.95,430.36 128.18,430.28 128.40,430.21 128.63,430.13 128.85,430.05 129.08,429.97 129.31,429.90 129.53,429.82 129.76,429.74 129.99,429.66 130.21,429.59 130.44,429.51 130.67,429.43 130.89,429.36 131.12,429.28 131.34,429.20 131.57,429.12 131.80,429.05 132.02,428.97 132.25,428.89 132.48,428.81 132.70,428.74 132.93,428.66 133.16,428.58 133.38,428.50 133.61,428.43 133.84,428.35 134.06,428.27 134.29,428.20 134.51,428.12 134.74,428.04 134.97,427.96 135.19,427.89 135.42,427.81 135.65,427.73 135.87,427.65 136.10,427.58 136.33,427.50 136.55,427.42 136.78,427.34 137.00,427.27 137.23,427.19 137.46,427.11 137.68,427.03 137.91,426.96 138.14,426.88 138.36,426.80 138.59,426.72 138.82,426.65 139.04,426.57 139.27,426.49 139.49,426.41 139.72,426.34 139.95,426.26 140.17,426.18 140.40,426.10 140.63,426.02 140.85,425.95 141.08,425.87 141.31,425.79 141.53,425.71 141.76,425.64 141.98,425.56 142.21,425.48 142.44,425.40 142.66,425.32 142.89,425.25 143.12,425.17 143.34,425.09 143.57,425.01 143.80,424.94 144.02,424.86 144.25,424.78 144.48,424.70 144.70,424.62 144.93,424.55 145.15,424.47 145.38,424.39 145.61,424.31 145.83,424.23 146.06,424.15 146.29,424.08 146.51,424.00 146.74,423.92 146.97,423.84 147.19,423.76 147.42,423.69 147.64,423.61 147.87,423.53 148.10,423.45 148.32,423.37 148.55,423.29 L148.55,423.35 148.32,424.27 148.10,425.20 147.87,426.14 147.64,427.07 147.42,428.01 147.19,428.96 146.97,429.91 146.74,430.86 146.51,431.82 146.29,432.78 146.06,433.74 145.83,434.71 145.61,435.68 145.38,436.66 145.15,437.64 144.93,438.62 144.70,439.61 144.48,440.60 144.25,441.60 144.02,442.60 143.80,443.61 143.57,444.61 143.34,445.63 143.12,446.64 142.89,447.67 142.66,448.69 142.44,449.72 142.21,450.75 141.98,451.79 141.76,452.84 141.53,453.88 141.31,454.93 141.08,455.99 140.85,457.05 140.63,458.11 140.40,459.18 140.17,460.25 139.95,461.33 139.72,462.41 139.49,463.50 139.27,464.59 139.04,465.68 138.82,466.78 138.59,467.89 138.36,469.00 138.14,470.11 137.91,471.23 137.68,472.35 137.46,473.47 137.23,474.61 137.00,475.74 136.78,476.88 136.55,478.03 136.33,479.18 136.10,480.33 135.87,481.49 135.65,482.66 135.42,483.82 135.19,485.00 134.97,486.18 134.74,487.36 134.51,488.55 134.29,489.74 134.06,490.94 133.84,492.14 133.61,493.35 133.38,494.56 133.16,495.78 132.93,497.00 132.70,498.23 132.48,499.46 132.25,500.70 132.02,501.94 131.80,503.19 131.57,504.44 131.34,505.70 131.12,506.96 130.89,508.23 130.67,509.50 130.44,510.78 130.21,512.07 129.99,513.36 129.76,514.65 129.53,515.95 129.31,517.25 129.08,518.56 128.85,519.88 128.63,521.20 128.40,522.53 128.18,523.86 127.95,525.20 127.72,526.54 127.50,527.89 127.27,529.24 127.04,530.60 126.82,531.96 126.59,533.33 126.36,534.71 126.14,536.09 125.91,537.48 125.69,538.87 125.46,540.27 125.23,541.67 125.01,543.08 124.78,544.50 124.55,545.92 124.33,547.34 124.10,548.78 123.87,550.22 123.65,551.66 123.42,553.11 123.20,554.57 122.97,556.03 122.74,557.50 122.52,558.97 122.29,560.45 122.06,561.94 121.84,563.43 121.61,564.93 121.38,566.43 121.16,567.94 120.93,569.46 120.71,570.98 120.48,572.51 120.25,574.04 120.03,575.58 119.80,577.13 119.57,578.68 119.35,580.24 119.12,581.81 118.89,583.38 118.67,584.96 118.44,586.55 118.21,588.14 117.99,589.74 117.76,591.34 117.54,592.95 117.31,594.57 117.08,596.20 116.86,597.83 116.63,599.47 116.40,601.11 116.18,602.76 115.95,604.42 115.72,606.08 115.50,607.75 115.27,609.43 115.05,611.12 114.82,612.81 114.59,614.51 114.37,616.21 114.14,617.92 113.91,619.64 113.69,621.37 113.46,623.10 113.23,624.84 113.01,626.59 112.78,628.34 112.56,630.11 112.33,631.87 112.10,633.65 111.88,635.43 111.65,637.22 111.42,639.02 111.20,640.82 110.97,642.64 110.74,644.45 110.52,646.28 110.29,648.12 110.07,649.96 109.84,651.81 109.61,653.66 109.39,655.53 109.16,657.40 108.93,659.28 108.71,661.16 108.48,663.06 108.25,664.96 108.03,666.87 107.80,668.78 107.57,670.71 107.35,672.64 107.12,674.58 106.90,676.53 106.67,678.49 106.44,680.45 106.22,682.42 105.99,684.40 105.76,686.39 105.54,688.39 105.31,690.39 105.08,692.40 104.86,694.42 104.63,696.45 104.41,698.49 104.18,700.53 103.95,702.59 103.73,704.65 103.50,706.72 Z" fill="#e8eaef"/>
<!-- proton -->
<path d="M103.50,438.78 153.41,421.61 179.05,412.44 205.45,402.35 230.02,392.18 242.92,386.49 255.36,380.76 267.50,374.90 279.18,368.99 290.56,362.96 301.48,356.89 311.95,350.76 321.81,344.69 331.06,338.67 339.71,332.72 347.90,326.73 355.64,320.71 362.77,314.76 369.45,308.77 375.51,302.87 381.13,296.93 385.37,292.02 389.32,287.04 392.81,282.19 395.84,277.48 398.72,272.43 401.30,267.29 408.28,251.02 410.25,246.88 411.47,244.80 412.53,243.36 413.59,242.33 414.65,241.76 415.87,241.59 417.08,241.90 418.30,242.56 421.78,244.93 423.91,245.76 425.73,245.88 429.07,245.40 430.74,245.34 437.11,246.37 439.08,246.22 443.33,245.16 445.45,244.93 447.42,245.12 451.52,246.03 453.34,246.16 460.62,245.23 468.21,246.09 475.94,245.25 483.53,246.00 491.12,245.36 498.55,245.93 506.29,245.41 513.87,245.88 521.46,245.46 529.19,245.83 536.63,245.50 544.37,245.80 552.25,245.54 559.54,245.74 567.58,245.56 575.01,245.77 582.60,245.59 596.70,245.59 605.81,245.82 623.10,245.48 636.60,246.03 651.93,245.09 655.87,245.29 663.46,246.43 666.64,246.63 670.13,246.30 677.41,244.52 680.75,244.17 682.42,244.30 684.24,244.70 690.92,247.43 692.28,247.81 693.65,247.95 695.32,247.72 697.14,246.92 698.65,245.87 701.84,243.19 703.05,242.41 704.11,242.08 705.02,242.19 705.93,242.76 706.69,243.68 707.45,245.08 708.21,247.03 709.58,252.10 710.94,259.52 712.31,269.59 713.52,280.97 714.89,296.60 716.10,313.04 718.07,344.66 720.35,387.73 727.48,543.48 730.21,598.99 732.94,646.41 735.67,684.08 736.88,697.63 738.25,710.63 739.61,721.45 740.98,730.29 742.50,738.08 744.01,744.06 745.68,748.94 747.50,752.67 748.72,754.45 749.93,755.79 751.45,757.00 752.96,757.82 754.63,758.41 756.61,758.83 762.22,759.23 1013.60,759.30" fill="none" stroke="#0a2756" stroke-width="3" stroke-linejoin="round"/>
<!-- photon -->
<path d="M103.50,706.72 110.18,649.05 117.16,595.67 124.14,548.55 131.72,503.61 139.61,462.93 147.81,426.40 152.05,409.49 156.30,393.85 160.86,378.37 165.41,364.14 169.96,351.05 174.81,338.25 179.67,326.55 184.83,315.23 189.99,304.96 195.45,295.12 201.22,285.80 206.98,277.45 213.05,269.62 219.12,262.67 225.49,256.23 232.17,250.32 239.15,244.97 246.13,240.35 253.72,236.07 261.61,232.34 267.98,229.79 274.35,227.62 281.33,225.63 288.31,223.98 295.60,222.60 303.49,221.45 319.87,219.98 338.08,219.52 358.11,220.03 380.87,221.54 407.27,224.11 429.73,226.76 455.52,230.13 522.59,239.81 845.18,289.37 1013.60,314.88" fill="none" stroke="#922729" stroke-width="3.1" stroke-linejoin="round"/>
<!-- tumour lines -->
<g stroke="#0e1a2b" stroke-width="2.3">
<line x1="407.27" y1="40.20" x2="407.27" y2="759.30"/>
<line x1="710.43" y1="40.20" x2="710.43" y2="759.30"/>
</g>
<g fill="#414e64" stroke="none">
<rect x="430" y="448.65" width="262" height="3.5"/>
<path d="M420.4,450.4 L436.4,444.0 L433.2,450.4 L436.6,457.2 Z"/>
<path d="M702,450.4 L686.2,444.0 L689.2,450.4 L686.2,457.0 Z"/>
</g>
<text x="522" y="438.5" font-size="23.5" textLength="79" lengthAdjust="spacing">Tumour</text>
<!-- axes -->
<g stroke="#231f20" stroke-width="1.5" fill="none">
<rect x="103.50" y="40.20" width="910.10" height="719.10"/>
<line x1="91.50" y1="759.30" x2="103.50" y2="759.30"/><line x1="91.50" y1="656.57" x2="103.50" y2="656.57"/><line x1="91.50" y1="553.84" x2="103.50" y2="553.84"/><line x1="91.50" y1="451.11" x2="103.50" y2="451.11"/><line x1="91.50" y1="348.39" x2="103.50" y2="348.39"/><line x1="91.50" y1="245.66" x2="103.50" y2="245.66"/><line x1="91.50" y1="142.93" x2="103.50" y2="142.93"/><line x1="91.50" y1="40.20" x2="103.50" y2="40.20"/><line x1="103.50" y1="759.30" x2="103.50" y2="770.80"/><line x1="406.87" y1="759.30" x2="406.87" y2="770.80"/><line x1="710.23" y1="759.30" x2="710.23" y2="770.80"/><line x1="1013.60" y1="759.30" x2="1013.60" y2="770.80"/>
</g>
<g fill="none" stroke="#231f20" stroke-width="1.7" stroke-linejoin="round"><path transform="translate(66.70,768.10)" d="M0.85,-8.00 a5.25,7.15 0 1,0 10.50,0 a5.25,7.15 0 1,0 -10.50,0 Z"/><path transform="translate(53.10,665.37)" d="M1.1,-11.0 C1.4,-13.6 3.2,-15.15 5.3,-15.15 C7.7,-15.15 9.5,-13.5 9.5,-11.1 C9.5,-9.5 8.8,-8.4 7.5,-7.1 L0.95,-0.85 L10.4,-0.85"/><path transform="translate(66.70,665.37)" d="M0.85,-8.00 a5.25,7.15 0 1,0 10.50,0 a5.25,7.15 0 1,0 -10.50,0 Z"/><path transform="translate(52.40,562.64)" d="M8.7,0 L8.7,-15.15 L0.85,-4.3 L11.6,-4.3"/><path transform="translate(66.70,562.64)" d="M0.85,-8.00 a5.25,7.15 0 1,0 10.50,0 a5.25,7.15 0 1,0 -10.50,0 Z"/><path transform="translate(52.80,459.91)" d="M0.85,-5.35 a4.65,4.50 0 1,0 9.30,0 a4.65,4.50 0 1,0 -9.30,0 Z M0.85,-5.35 C0.85,-11.5 2.9,-15.15 6.0,-15.15 C7.9,-15.15 9.1,-14.3 9.9,-12.9"/><path transform="translate(66.70,459.91)" d="M0.85,-8.00 a5.25,7.15 0 1,0 10.50,0 a5.25,7.15 0 1,0 -10.50,0 Z"/><path transform="translate(52.60,357.19)" d="M1.75,-12.00 a3.65,3.20 0 1,0 7.30,0 a3.65,3.20 0 1,0 -7.30,0 Z M0.85,-4.70 a4.55,3.85 0 1,0 9.10,0 a4.55,3.85 0 1,0 -9.10,0 Z"/><path transform="translate(66.70,357.19)" d="M0.85,-8.00 a5.25,7.15 0 1,0 10.50,0 a5.25,7.15 0 1,0 -10.50,0 Z"/><path transform="translate(41.20,254.46)" d="M0.85,-12.3 L5.1,-15.15 L5.1,0"/><path transform="translate(51.00,254.46)" d="M0.85,-8.00 a5.25,7.15 0 1,0 10.50,0 a5.25,7.15 0 1,0 -10.50,0 Z"/><path transform="translate(66.60,254.46)" d="M0.85,-8.00 a5.25,7.15 0 1,0 10.50,0 a5.25,7.15 0 1,0 -10.50,0 Z"/><path transform="translate(44.20,151.73)" d="M0.85,-12.3 L5.1,-15.15 L5.1,0"/><path transform="translate(53.30,151.73)" d="M1.1,-11.0 C1.4,-13.6 3.2,-15.15 5.3,-15.15 C7.7,-15.15 9.5,-13.5 9.5,-11.1 C9.5,-9.5 8.8,-8.4 7.5,-7.1 L0.95,-0.85 L10.4,-0.85"/><path transform="translate(66.70,151.73)" d="M0.85,-8.00 a5.25,7.15 0 1,0 10.50,0 a5.25,7.15 0 1,0 -10.50,0 Z"/><path transform="translate(43.00,49.00)" d="M0.85,-12.3 L5.1,-15.15 L5.1,0"/><path transform="translate(52.60,49.00)" d="M8.7,0 L8.7,-15.15 L0.85,-4.3 L11.6,-4.3"/><path transform="translate(66.80,49.00)" d="M0.85,-8.00 a5.25,7.15 0 1,0 10.50,0 a5.25,7.15 0 1,0 -10.50,0 Z"/><path transform="translate(97.40,799.40)" d="M0.85,-8.00 a5.25,7.15 0 1,0 10.50,0 a5.25,7.15 0 1,0 -10.50,0 Z"/><path transform="translate(402.00,799.40)" d="M9.7,-15.15 L1.7,-15.15 L1.35,-8.2 C2.4,-9.7 3.9,-10.4 5.5,-10.4 C8.3,-10.4 9.85,-8.3 9.85,-5.6 C9.85,-2.7 7.9,-0.85 5.3,-0.85 C3.3,-0.85 1.7,-1.9 0.85,-3.8"/><path transform="translate(699.40,799.40)" d="M0.85,-12.3 L5.1,-15.15 L5.1,0"/><path transform="translate(709.70,799.40)" d="M0.85,-8.00 a5.25,7.15 0 1,0 10.50,0 a5.25,7.15 0 1,0 -10.50,0 Z"/><path transform="translate(1003.00,799.40)" d="M0.85,-12.3 L5.1,-15.15 L5.1,0"/><path transform="translate(1012.60,799.40)" d="M9.7,-15.15 L1.7,-15.15 L1.35,-8.2 C2.4,-9.7 3.9,-10.4 5.5,-10.4 C8.3,-10.4 9.85,-8.3 9.85,-5.6 C9.85,-2.7 7.9,-0.85 5.3,-0.85 C3.3,-0.85 1.7,-1.9 0.85,-3.8"/></g>
<text x="453" y="837.3" font-size="24.8" textLength="215.5" lengthAdjust="spacing">Water depth (cm)</text>
<text transform="translate(19.9,515.2) rotate(-90)" x="0" y="0" font-size="24.8" textLength="234" lengthAdjust="spacing">Absorbed dose (%)</text>
</svg>
</body></html>
